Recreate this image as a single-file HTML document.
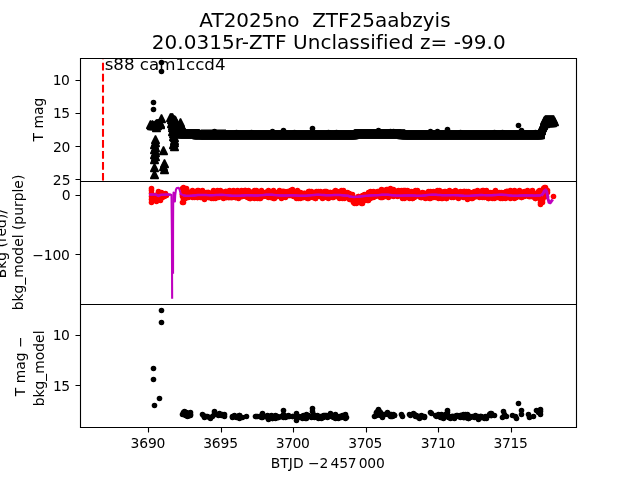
<!DOCTYPE html>
<html lang="en"><head><meta charset="utf-8"><title>AT2025no ZTF25aabzyis</title>
<style>html,body{margin:0;padding:0;background:#fff;width:640px;height:480px;overflow:hidden}</style>
</head><body>
<svg width="640" height="480" viewBox="0 0 640 480" style="display:block;will-change:transform;font-family:'DejaVu Sans','Liberation Sans',sans-serif;fill:#000">
<rect width="640" height="480" fill="#fff"/>
<clipPath id="c1"><rect x="80" y="57.6" width="496" height="123.2"/></clipPath>
<clipPath id="c2"><rect x="80" y="180.8" width="496" height="123.2"/></clipPath>
<clipPath id="c3"><rect x="80" y="304" width="496" height="123.2"/></clipPath>
<g clip-path="url(#c1)">
<g fill="#000"><circle cx="161.5" cy="62.5" r="2.78"/><circle cx="161.5" cy="71.5" r="2.78"/><circle cx="153.5" cy="102.5" r="2.78"/><circle cx="153.5" cy="109.5" r="2.78"/><circle cx="159.5" cy="121.5" r="2.78"/><circle cx="154.5" cy="125.5" r="2.78"/><circle cx="214.5" cy="131.5" r="2.78"/><circle cx="236.5" cy="132.5" r="2.78"/><circle cx="251.5" cy="132.5" r="2.78"/><circle cx="460.5" cy="132.5" r="2.78"/><circle cx="494.5" cy="132.5" r="2.78"/><circle cx="502.5" cy="132.5" r="2.78"/><circle cx="272.5" cy="131.5" r="2.78"/><circle cx="283.5" cy="130.5" r="2.78"/><circle cx="294.5" cy="132.5" r="2.78"/><circle cx="312.5" cy="128.5" r="2.78"/><circle cx="328.5" cy="132.5" r="2.78"/><circle cx="336.5" cy="132.5" r="2.78"/><circle cx="378.5" cy="130.5" r="2.78"/><circle cx="390.5" cy="131.5" r="2.78"/><circle cx="393.5" cy="131.5" r="2.78"/><circle cx="430.5" cy="131.5" r="2.78"/><circle cx="437.5" cy="131.5" r="2.78"/><circle cx="447.5" cy="129.5" r="2.78"/><circle cx="518.5" cy="125.5" r="2.78"/><circle cx="521.5" cy="130.5" r="2.78"/><circle cx="535.5" cy="132.5" r="2.78"/></g>
<g fill="#000" stroke="#000" stroke-width="1.39" stroke-linejoin="bevel">
<path d="M150.5 120.5l-4 8h8zM159.5 119.5l-4 8h8zM154.5 155.5l-4 8h8zM171.5 119.5l-4 8h8zM176.5 122.5l-4 8h8zM183.5 126.5l-4 8h8zM174.5 133.5l-4 8h8zM179.5 129.5l-4 8h8zM185.5 129.5l-4 8h8zM191.5 129.5l-4 8h8zM197.5 129.5l-4 8h8zM203.5 130.5l-4 8h8zM209.5 130.5l-4 8h8zM215.5 130.5l-4 8h8zM221.5 130.5l-4 8h8zM227.5 130.5l-4 8h8zM233.5 130.5l-4 8h8zM239.5 130.5l-4 8h8zM245.5 130.5l-4 8h8zM251.5 130.5l-4 8h8zM257.5 130.5l-4 8h8zM263.5 130.5l-4 8h8zM269.5 130.5l-4 8h8zM275.5 130.5l-4 8h8zM281.5 130.5l-4 8h8zM287.5 130.5l-4 8h8zM293.5 130.5l-4 8h8zM299.5 130.5l-4 8h8zM305.5 130.5l-4 8h8zM311.5 130.5l-4 8h8zM317.5 130.5l-4 8h8zM323.5 130.5l-4 8h8zM329.5 130.5l-4 8h8zM335.5 130.5l-4 8h8zM341.5 130.5l-4 8h8zM347.5 130.5l-4 8h8zM353.5 130.5l-4 8h8zM359.5 129.5l-4 8h8zM365.5 129.5l-4 8h8zM371.5 129.5l-4 8h8zM377.5 129.5l-4 8h8zM383.5 129.5l-4 8h8zM389.5 129.5l-4 8h8zM395.5 129.5l-4 8h8zM401.5 130.5l-4 8h8zM407.5 130.5l-4 8h8zM413.5 130.5l-4 8h8zM419.5 130.5l-4 8h8zM425.5 130.5l-4 8h8zM431.5 130.5l-4 8h8zM437.5 130.5l-4 8h8zM443.5 130.5l-4 8h8zM449.5 130.5l-4 8h8zM455.5 130.5l-4 8h8zM461.5 130.5l-4 8h8zM467.5 130.5l-4 8h8zM473.5 130.5l-4 8h8zM479.5 130.5l-4 8h8zM485.5 130.5l-4 8h8zM491.5 130.5l-4 8h8zM497.5 130.5l-4 8h8zM503.5 130.5l-4 8h8zM509.5 130.5l-4 8h8zM515.5 130.5l-4 8h8zM521.5 130.5l-4 8h8zM527.5 130.5l-4 8h8zM533.5 130.5l-4 8h8zM539.5 130.5l-4 8h8zM544.5 119.5l-4 8h8zM553.5 115.5l-4 8h8zM545.5 118.5l-4 8h8z"/>
<path d="M151.5 121.5l-4 8h8zM160.5 119.5l-4 8h8zM154.5 163.5l-4 8h8zM172.5 121.5l-4 8h8zM177.5 124.5l-4 8h8zM184.5 127.5l-4 8h8zM174.5 136.5l-4 8h8zM180.5 129.5l-4 8h8zM186.5 129.5l-4 8h8zM192.5 129.5l-4 8h8zM198.5 129.5l-4 8h8zM204.5 130.5l-4 8h8zM210.5 130.5l-4 8h8zM216.5 130.5l-4 8h8zM222.5 130.5l-4 8h8zM228.5 130.5l-4 8h8zM234.5 130.5l-4 8h8zM240.5 130.5l-4 8h8zM246.5 130.5l-4 8h8zM252.5 130.5l-4 8h8zM258.5 130.5l-4 8h8zM264.5 130.5l-4 8h8zM270.5 130.5l-4 8h8zM276.5 130.5l-4 8h8zM282.5 130.5l-4 8h8zM288.5 130.5l-4 8h8zM294.5 130.5l-4 8h8zM300.5 130.5l-4 8h8zM306.5 130.5l-4 8h8zM312.5 130.5l-4 8h8zM318.5 130.5l-4 8h8zM324.5 130.5l-4 8h8zM330.5 130.5l-4 8h8zM336.5 130.5l-4 8h8zM342.5 130.5l-4 8h8zM348.5 130.5l-4 8h8zM354.5 130.5l-4 8h8zM360.5 129.5l-4 8h8zM366.5 129.5l-4 8h8zM372.5 129.5l-4 8h8zM378.5 129.5l-4 8h8zM384.5 129.5l-4 8h8zM390.5 129.5l-4 8h8zM396.5 129.5l-4 8h8zM402.5 129.5l-4 8h8zM408.5 130.5l-4 8h8zM414.5 130.5l-4 8h8zM420.5 130.5l-4 8h8zM426.5 130.5l-4 8h8zM432.5 130.5l-4 8h8zM438.5 130.5l-4 8h8zM444.5 130.5l-4 8h8zM450.5 130.5l-4 8h8zM456.5 130.5l-4 8h8zM462.5 130.5l-4 8h8zM468.5 130.5l-4 8h8zM474.5 130.5l-4 8h8zM480.5 130.5l-4 8h8zM486.5 130.5l-4 8h8zM492.5 130.5l-4 8h8zM498.5 130.5l-4 8h8zM504.5 130.5l-4 8h8zM510.5 130.5l-4 8h8zM516.5 130.5l-4 8h8zM522.5 130.5l-4 8h8zM528.5 130.5l-4 8h8zM534.5 130.5l-4 8h8zM540.5 130.5l-4 8h8zM544.5 118.5l-4 8h8zM544.5 117.5l-4 8h8zM546.5 118.5l-4 8h8z"/>
<path d="M152.5 120.5l-4 8h8zM160.5 120.5l-4 8h8zM154.5 170.5l-4 8h8zM172.5 123.5l-4 8h8zM178.5 126.5l-4 8h8zM180.5 127.5l-4 8h8zM174.5 138.5l-4 8h8zM180.5 129.5l-4 8h8zM186.5 129.5l-4 8h8zM192.5 129.5l-4 8h8zM198.5 129.5l-4 8h8zM204.5 130.5l-4 8h8zM210.5 130.5l-4 8h8zM216.5 130.5l-4 8h8zM222.5 130.5l-4 8h8zM228.5 130.5l-4 8h8zM234.5 130.5l-4 8h8zM240.5 130.5l-4 8h8zM246.5 130.5l-4 8h8zM252.5 130.5l-4 8h8zM258.5 130.5l-4 8h8zM264.5 130.5l-4 8h8zM270.5 130.5l-4 8h8zM276.5 130.5l-4 8h8zM282.5 130.5l-4 8h8zM288.5 130.5l-4 8h8zM294.5 130.5l-4 8h8zM300.5 130.5l-4 8h8zM306.5 130.5l-4 8h8zM312.5 130.5l-4 8h8zM318.5 130.5l-4 8h8zM324.5 130.5l-4 8h8zM330.5 130.5l-4 8h8zM336.5 130.5l-4 8h8zM342.5 130.5l-4 8h8zM348.5 130.5l-4 8h8zM354.5 129.5l-4 8h8zM360.5 129.5l-4 8h8zM366.5 129.5l-4 8h8zM372.5 129.5l-4 8h8zM378.5 129.5l-4 8h8zM384.5 129.5l-4 8h8zM390.5 129.5l-4 8h8zM396.5 129.5l-4 8h8zM402.5 130.5l-4 8h8zM408.5 130.5l-4 8h8zM414.5 130.5l-4 8h8zM420.5 130.5l-4 8h8zM426.5 130.5l-4 8h8zM432.5 130.5l-4 8h8zM438.5 130.5l-4 8h8zM444.5 130.5l-4 8h8zM450.5 130.5l-4 8h8zM456.5 130.5l-4 8h8zM462.5 130.5l-4 8h8zM468.5 130.5l-4 8h8zM474.5 130.5l-4 8h8zM480.5 130.5l-4 8h8zM486.5 130.5l-4 8h8zM492.5 130.5l-4 8h8zM498.5 130.5l-4 8h8zM504.5 130.5l-4 8h8zM510.5 130.5l-4 8h8zM516.5 130.5l-4 8h8zM522.5 130.5l-4 8h8zM528.5 130.5l-4 8h8zM534.5 130.5l-4 8h8zM540.5 129.5l-4 8h8zM545.5 119.5l-4 8h8zM545.5 117.5l-4 8h8zM547.5 118.5l-4 8h8z"/>
<path d="M153.5 121.5l-4 8h8zM156.5 123.5l-4 8h8zM163.5 146.5l-4 8h8zM173.5 125.5l-4 8h8zM176.5 119.5l-4 8h8zM179.5 128.5l-4 8h8zM174.5 142.5l-4 8h8zM181.5 129.5l-4 8h8zM187.5 129.5l-4 8h8zM193.5 129.5l-4 8h8zM199.5 129.5l-4 8h8zM205.5 130.5l-4 8h8zM211.5 130.5l-4 8h8zM217.5 130.5l-4 8h8zM223.5 130.5l-4 8h8zM229.5 130.5l-4 8h8zM235.5 130.5l-4 8h8zM241.5 130.5l-4 8h8zM247.5 130.5l-4 8h8zM253.5 130.5l-4 8h8zM259.5 130.5l-4 8h8zM265.5 130.5l-4 8h8zM271.5 130.5l-4 8h8zM277.5 130.5l-4 8h8zM283.5 130.5l-4 8h8zM289.5 130.5l-4 8h8zM295.5 130.5l-4 8h8zM301.5 130.5l-4 8h8zM307.5 130.5l-4 8h8zM313.5 130.5l-4 8h8zM319.5 130.5l-4 8h8zM325.5 130.5l-4 8h8zM331.5 130.5l-4 8h8zM337.5 130.5l-4 8h8zM343.5 130.5l-4 8h8zM349.5 130.5l-4 8h8zM355.5 129.5l-4 8h8zM361.5 129.5l-4 8h8zM367.5 129.5l-4 8h8zM373.5 129.5l-4 8h8zM379.5 129.5l-4 8h8zM385.5 129.5l-4 8h8zM391.5 129.5l-4 8h8zM397.5 129.5l-4 8h8zM403.5 129.5l-4 8h8zM409.5 130.5l-4 8h8zM415.5 130.5l-4 8h8zM421.5 130.5l-4 8h8zM427.5 130.5l-4 8h8zM433.5 130.5l-4 8h8zM439.5 130.5l-4 8h8zM445.5 130.5l-4 8h8zM451.5 130.5l-4 8h8zM457.5 130.5l-4 8h8zM463.5 130.5l-4 8h8zM469.5 130.5l-4 8h8zM475.5 130.5l-4 8h8zM481.5 130.5l-4 8h8zM487.5 130.5l-4 8h8zM493.5 130.5l-4 8h8zM499.5 130.5l-4 8h8zM505.5 130.5l-4 8h8zM511.5 130.5l-4 8h8zM517.5 130.5l-4 8h8zM523.5 130.5l-4 8h8zM529.5 130.5l-4 8h8zM535.5 130.5l-4 8h8zM540.5 128.5l-4 8h8zM544.5 116.5l-4 8h8zM546.5 117.5l-4 8h8zM548.5 118.5l-4 8h8z"/>
<path d="M152.5 121.5l-4 8h8zM155.5 135.5l-4 8h8zM164.5 159.5l-4 8h8zM173.5 126.5l-4 8h8zM177.5 121.5l-4 8h8zM178.5 128.5l-4 8h8zM173.5 140.5l-4 8h8zM181.5 129.5l-4 8h8zM187.5 129.5l-4 8h8zM193.5 129.5l-4 8h8zM199.5 130.5l-4 8h8zM205.5 130.5l-4 8h8zM211.5 130.5l-4 8h8zM217.5 130.5l-4 8h8zM223.5 130.5l-4 8h8zM229.5 130.5l-4 8h8zM235.5 130.5l-4 8h8zM241.5 130.5l-4 8h8zM247.5 130.5l-4 8h8zM253.5 130.5l-4 8h8zM259.5 130.5l-4 8h8zM265.5 130.5l-4 8h8zM271.5 130.5l-4 8h8zM277.5 130.5l-4 8h8zM283.5 130.5l-4 8h8zM289.5 130.5l-4 8h8zM295.5 130.5l-4 8h8zM301.5 130.5l-4 8h8zM307.5 130.5l-4 8h8zM313.5 130.5l-4 8h8zM319.5 130.5l-4 8h8zM325.5 130.5l-4 8h8zM331.5 130.5l-4 8h8zM337.5 130.5l-4 8h8zM343.5 130.5l-4 8h8zM349.5 130.5l-4 8h8zM355.5 129.5l-4 8h8zM361.5 129.5l-4 8h8zM367.5 129.5l-4 8h8zM373.5 129.5l-4 8h8zM379.5 129.5l-4 8h8zM385.5 129.5l-4 8h8zM391.5 129.5l-4 8h8zM397.5 129.5l-4 8h8zM403.5 130.5l-4 8h8zM409.5 130.5l-4 8h8zM415.5 130.5l-4 8h8zM421.5 130.5l-4 8h8zM427.5 130.5l-4 8h8zM433.5 130.5l-4 8h8zM439.5 130.5l-4 8h8zM445.5 130.5l-4 8h8zM451.5 130.5l-4 8h8zM457.5 130.5l-4 8h8zM463.5 130.5l-4 8h8zM469.5 130.5l-4 8h8zM475.5 130.5l-4 8h8zM481.5 130.5l-4 8h8zM487.5 130.5l-4 8h8zM493.5 130.5l-4 8h8zM499.5 130.5l-4 8h8zM505.5 130.5l-4 8h8zM511.5 130.5l-4 8h8zM517.5 130.5l-4 8h8zM523.5 130.5l-4 8h8zM529.5 130.5l-4 8h8zM535.5 130.5l-4 8h8zM540.5 127.5l-4 8h8zM545.5 115.5l-4 8h8zM547.5 117.5l-4 8h8zM549.5 118.5l-4 8h8z"/>
<path d="M154.5 121.5l-4 8h8zM155.5 138.5l-4 8h8zM163.5 162.5l-4 8h8zM172.5 127.5l-4 8h8zM178.5 123.5l-4 8h8zM175.5 124.5l-4 8h8zM196.5 130.5l-4 8h8zM182.5 129.5l-4 8h8zM188.5 129.5l-4 8h8zM194.5 129.5l-4 8h8zM200.5 130.5l-4 8h8zM206.5 130.5l-4 8h8zM212.5 130.5l-4 8h8zM218.5 130.5l-4 8h8zM224.5 130.5l-4 8h8zM230.5 130.5l-4 8h8zM236.5 130.5l-4 8h8zM242.5 130.5l-4 8h8zM248.5 130.5l-4 8h8zM254.5 130.5l-4 8h8zM260.5 130.5l-4 8h8zM266.5 130.5l-4 8h8zM272.5 130.5l-4 8h8zM278.5 130.5l-4 8h8zM284.5 130.5l-4 8h8zM290.5 130.5l-4 8h8zM296.5 130.5l-4 8h8zM302.5 130.5l-4 8h8zM308.5 130.5l-4 8h8zM314.5 130.5l-4 8h8zM320.5 130.5l-4 8h8zM326.5 130.5l-4 8h8zM332.5 130.5l-4 8h8zM338.5 130.5l-4 8h8zM344.5 130.5l-4 8h8zM350.5 130.5l-4 8h8zM356.5 129.5l-4 8h8zM362.5 129.5l-4 8h8zM368.5 129.5l-4 8h8zM374.5 129.5l-4 8h8zM380.5 129.5l-4 8h8zM386.5 129.5l-4 8h8zM392.5 129.5l-4 8h8zM398.5 129.5l-4 8h8zM404.5 129.5l-4 8h8zM410.5 130.5l-4 8h8zM416.5 130.5l-4 8h8zM422.5 130.5l-4 8h8zM428.5 130.5l-4 8h8zM434.5 130.5l-4 8h8zM440.5 130.5l-4 8h8zM446.5 130.5l-4 8h8zM452.5 130.5l-4 8h8zM458.5 130.5l-4 8h8zM464.5 130.5l-4 8h8zM470.5 130.5l-4 8h8zM476.5 130.5l-4 8h8zM482.5 130.5l-4 8h8zM488.5 130.5l-4 8h8zM494.5 130.5l-4 8h8zM500.5 130.5l-4 8h8zM506.5 130.5l-4 8h8zM512.5 130.5l-4 8h8zM518.5 130.5l-4 8h8zM524.5 130.5l-4 8h8zM530.5 130.5l-4 8h8zM536.5 130.5l-4 8h8zM541.5 126.5l-4 8h8zM546.5 115.5l-4 8h8zM548.5 117.5l-4 8h8zM550.5 118.5l-4 8h8z"/>
<path d="M155.5 120.5l-4 8h8zM154.5 140.5l-4 8h8zM164.5 165.5l-4 8h8zM173.5 129.5l-4 8h8zM179.5 125.5l-4 8h8zM176.5 126.5l-4 8h8zM196.5 130.5l-4 8h8zM182.5 129.5l-4 8h8zM188.5 129.5l-4 8h8zM194.5 129.5l-4 8h8zM200.5 130.5l-4 8h8zM206.5 130.5l-4 8h8zM212.5 130.5l-4 8h8zM218.5 130.5l-4 8h8zM224.5 130.5l-4 8h8zM230.5 130.5l-4 8h8zM236.5 130.5l-4 8h8zM242.5 130.5l-4 8h8zM248.5 130.5l-4 8h8zM254.5 130.5l-4 8h8zM260.5 130.5l-4 8h8zM266.5 130.5l-4 8h8zM272.5 130.5l-4 8h8zM278.5 130.5l-4 8h8zM284.5 130.5l-4 8h8zM290.5 130.5l-4 8h8zM296.5 130.5l-4 8h8zM302.5 130.5l-4 8h8zM308.5 130.5l-4 8h8zM314.5 130.5l-4 8h8zM320.5 130.5l-4 8h8zM326.5 130.5l-4 8h8zM332.5 130.5l-4 8h8zM338.5 130.5l-4 8h8zM344.5 130.5l-4 8h8zM350.5 130.5l-4 8h8zM356.5 129.5l-4 8h8zM362.5 129.5l-4 8h8zM368.5 129.5l-4 8h8zM374.5 129.5l-4 8h8zM380.5 129.5l-4 8h8zM386.5 129.5l-4 8h8zM392.5 129.5l-4 8h8zM398.5 129.5l-4 8h8zM404.5 130.5l-4 8h8zM410.5 130.5l-4 8h8zM416.5 130.5l-4 8h8zM422.5 130.5l-4 8h8zM428.5 130.5l-4 8h8zM434.5 130.5l-4 8h8zM440.5 130.5l-4 8h8zM446.5 130.5l-4 8h8zM452.5 130.5l-4 8h8zM458.5 130.5l-4 8h8zM464.5 130.5l-4 8h8zM470.5 130.5l-4 8h8zM476.5 130.5l-4 8h8zM482.5 130.5l-4 8h8zM488.5 130.5l-4 8h8zM494.5 130.5l-4 8h8zM500.5 130.5l-4 8h8zM506.5 130.5l-4 8h8zM512.5 130.5l-4 8h8zM518.5 130.5l-4 8h8zM524.5 130.5l-4 8h8zM530.5 130.5l-4 8h8zM536.5 130.5l-4 8h8zM541.5 125.5l-4 8h8zM547.5 115.5l-4 8h8zM549.5 117.5l-4 8h8zM551.5 118.5l-4 8h8z"/>
<path d="M156.5 119.5l-4 8h8zM155.5 143.5l-4 8h8zM170.5 113.5l-4 8h8zM173.5 132.5l-4 8h8zM180.5 118.5l-4 8h8zM174.5 122.5l-4 8h8zM197.5 130.5l-4 8h8zM183.5 129.5l-4 8h8zM189.5 129.5l-4 8h8zM195.5 129.5l-4 8h8zM201.5 130.5l-4 8h8zM207.5 130.5l-4 8h8zM213.5 130.5l-4 8h8zM219.5 130.5l-4 8h8zM225.5 130.5l-4 8h8zM231.5 130.5l-4 8h8zM237.5 130.5l-4 8h8zM243.5 130.5l-4 8h8zM249.5 130.5l-4 8h8zM255.5 130.5l-4 8h8zM261.5 130.5l-4 8h8zM267.5 130.5l-4 8h8zM273.5 130.5l-4 8h8zM279.5 130.5l-4 8h8zM285.5 130.5l-4 8h8zM291.5 130.5l-4 8h8zM297.5 130.5l-4 8h8zM303.5 130.5l-4 8h8zM309.5 130.5l-4 8h8zM315.5 130.5l-4 8h8zM321.5 130.5l-4 8h8zM327.5 130.5l-4 8h8zM333.5 130.5l-4 8h8zM339.5 130.5l-4 8h8zM345.5 130.5l-4 8h8zM351.5 130.5l-4 8h8zM357.5 129.5l-4 8h8zM363.5 129.5l-4 8h8zM369.5 129.5l-4 8h8zM375.5 129.5l-4 8h8zM381.5 129.5l-4 8h8zM387.5 129.5l-4 8h8zM393.5 129.5l-4 8h8zM399.5 129.5l-4 8h8zM405.5 130.5l-4 8h8zM411.5 130.5l-4 8h8zM417.5 130.5l-4 8h8zM423.5 130.5l-4 8h8zM429.5 130.5l-4 8h8zM435.5 130.5l-4 8h8zM441.5 130.5l-4 8h8zM447.5 130.5l-4 8h8zM453.5 130.5l-4 8h8zM459.5 130.5l-4 8h8zM465.5 130.5l-4 8h8zM471.5 130.5l-4 8h8zM477.5 130.5l-4 8h8zM483.5 130.5l-4 8h8zM489.5 130.5l-4 8h8zM495.5 130.5l-4 8h8zM501.5 130.5l-4 8h8zM507.5 130.5l-4 8h8zM513.5 130.5l-4 8h8zM519.5 130.5l-4 8h8zM525.5 130.5l-4 8h8zM531.5 130.5l-4 8h8zM537.5 130.5l-4 8h8zM541.5 124.5l-4 8h8zM548.5 115.5l-4 8h8zM550.5 117.5l-4 8h8zM552.5 118.5l-4 8h8z"/>
<path d="M157.5 119.5l-4 8h8zM154.5 145.5l-4 8h8zM171.5 113.5l-4 8h8zM175.5 116.5l-4 8h8zM180.5 120.5l-4 8h8zM175.5 127.5l-4 8h8zM197.5 130.5l-4 8h8zM183.5 129.5l-4 8h8zM189.5 129.5l-4 8h8zM195.5 129.5l-4 8h8zM201.5 130.5l-4 8h8zM207.5 130.5l-4 8h8zM213.5 130.5l-4 8h8zM219.5 130.5l-4 8h8zM225.5 130.5l-4 8h8zM231.5 130.5l-4 8h8zM237.5 130.5l-4 8h8zM243.5 130.5l-4 8h8zM249.5 130.5l-4 8h8zM255.5 130.5l-4 8h8zM261.5 130.5l-4 8h8zM267.5 130.5l-4 8h8zM273.5 130.5l-4 8h8zM279.5 130.5l-4 8h8zM285.5 130.5l-4 8h8zM291.5 130.5l-4 8h8zM297.5 130.5l-4 8h8zM303.5 130.5l-4 8h8zM309.5 130.5l-4 8h8zM315.5 130.5l-4 8h8zM321.5 130.5l-4 8h8zM327.5 130.5l-4 8h8zM333.5 130.5l-4 8h8zM339.5 130.5l-4 8h8zM345.5 130.5l-4 8h8zM351.5 130.5l-4 8h8zM357.5 129.5l-4 8h8zM363.5 129.5l-4 8h8zM369.5 129.5l-4 8h8zM375.5 129.5l-4 8h8zM381.5 129.5l-4 8h8zM387.5 129.5l-4 8h8zM393.5 129.5l-4 8h8zM399.5 129.5l-4 8h8zM405.5 130.5l-4 8h8zM411.5 130.5l-4 8h8zM417.5 130.5l-4 8h8zM423.5 130.5l-4 8h8zM429.5 130.5l-4 8h8zM435.5 130.5l-4 8h8zM441.5 130.5l-4 8h8zM447.5 130.5l-4 8h8zM453.5 130.5l-4 8h8zM459.5 130.5l-4 8h8zM465.5 130.5l-4 8h8zM471.5 130.5l-4 8h8zM477.5 130.5l-4 8h8zM483.5 130.5l-4 8h8zM489.5 130.5l-4 8h8zM495.5 130.5l-4 8h8zM501.5 130.5l-4 8h8zM507.5 130.5l-4 8h8zM513.5 130.5l-4 8h8zM519.5 130.5l-4 8h8zM525.5 130.5l-4 8h8zM531.5 130.5l-4 8h8zM537.5 130.5l-4 8h8zM542.5 123.5l-4 8h8zM549.5 115.5l-4 8h8zM551.5 117.5l-4 8h8z"/>
<path d="M158.5 119.5l-4 8h8zM155.5 148.5l-4 8h8zM172.5 113.5l-4 8h8zM174.5 115.5l-4 8h8zM181.5 122.5l-4 8h8zM176.5 128.5l-4 8h8zM198.5 130.5l-4 8h8zM184.5 129.5l-4 8h8zM190.5 129.5l-4 8h8zM196.5 129.5l-4 8h8zM202.5 130.5l-4 8h8zM208.5 130.5l-4 8h8zM214.5 130.5l-4 8h8zM220.5 130.5l-4 8h8zM226.5 130.5l-4 8h8zM232.5 130.5l-4 8h8zM238.5 130.5l-4 8h8zM244.5 130.5l-4 8h8zM250.5 130.5l-4 8h8zM256.5 130.5l-4 8h8zM262.5 130.5l-4 8h8zM268.5 130.5l-4 8h8zM274.5 130.5l-4 8h8zM280.5 130.5l-4 8h8zM286.5 130.5l-4 8h8zM292.5 130.5l-4 8h8zM298.5 130.5l-4 8h8zM304.5 130.5l-4 8h8zM310.5 130.5l-4 8h8zM316.5 130.5l-4 8h8zM322.5 130.5l-4 8h8zM328.5 130.5l-4 8h8zM334.5 130.5l-4 8h8zM340.5 130.5l-4 8h8zM346.5 130.5l-4 8h8zM352.5 130.5l-4 8h8zM358.5 129.5l-4 8h8zM364.5 129.5l-4 8h8zM370.5 129.5l-4 8h8zM376.5 129.5l-4 8h8zM382.5 129.5l-4 8h8zM388.5 129.5l-4 8h8zM394.5 129.5l-4 8h8zM400.5 129.5l-4 8h8zM406.5 130.5l-4 8h8zM412.5 130.5l-4 8h8zM418.5 130.5l-4 8h8zM424.5 130.5l-4 8h8zM430.5 130.5l-4 8h8zM436.5 130.5l-4 8h8zM442.5 130.5l-4 8h8zM448.5 130.5l-4 8h8zM454.5 130.5l-4 8h8zM460.5 130.5l-4 8h8zM466.5 130.5l-4 8h8zM472.5 130.5l-4 8h8zM478.5 130.5l-4 8h8zM484.5 130.5l-4 8h8zM490.5 130.5l-4 8h8zM496.5 130.5l-4 8h8zM502.5 130.5l-4 8h8zM508.5 130.5l-4 8h8zM514.5 130.5l-4 8h8zM520.5 130.5l-4 8h8zM526.5 130.5l-4 8h8zM532.5 130.5l-4 8h8zM538.5 130.5l-4 8h8zM542.5 122.5l-4 8h8zM550.5 115.5l-4 8h8zM552.5 117.5l-4 8h8z"/>
<path d="M157.5 121.5l-4 8h8zM154.5 150.5l-4 8h8zM171.5 115.5l-4 8h8zM174.5 118.5l-4 8h8zM182.5 124.5l-4 8h8zM177.5 128.5l-4 8h8zM198.5 130.5l-4 8h8zM184.5 129.5l-4 8h8zM190.5 129.5l-4 8h8zM196.5 129.5l-4 8h8zM202.5 130.5l-4 8h8zM208.5 130.5l-4 8h8zM214.5 130.5l-4 8h8zM220.5 130.5l-4 8h8zM226.5 130.5l-4 8h8zM232.5 130.5l-4 8h8zM238.5 130.5l-4 8h8zM244.5 130.5l-4 8h8zM250.5 130.5l-4 8h8zM256.5 130.5l-4 8h8zM262.5 130.5l-4 8h8zM268.5 130.5l-4 8h8zM274.5 130.5l-4 8h8zM280.5 130.5l-4 8h8zM286.5 130.5l-4 8h8zM292.5 130.5l-4 8h8zM298.5 130.5l-4 8h8zM304.5 130.5l-4 8h8zM310.5 130.5l-4 8h8zM316.5 130.5l-4 8h8zM322.5 130.5l-4 8h8zM328.5 130.5l-4 8h8zM334.5 130.5l-4 8h8zM340.5 130.5l-4 8h8zM346.5 130.5l-4 8h8zM352.5 130.5l-4 8h8zM358.5 129.5l-4 8h8zM364.5 129.5l-4 8h8zM370.5 129.5l-4 8h8zM376.5 129.5l-4 8h8zM382.5 129.5l-4 8h8zM388.5 129.5l-4 8h8zM394.5 129.5l-4 8h8zM400.5 129.5l-4 8h8zM406.5 130.5l-4 8h8zM412.5 130.5l-4 8h8zM418.5 130.5l-4 8h8zM424.5 130.5l-4 8h8zM430.5 130.5l-4 8h8zM436.5 130.5l-4 8h8zM442.5 130.5l-4 8h8zM448.5 130.5l-4 8h8zM454.5 130.5l-4 8h8zM460.5 130.5l-4 8h8zM466.5 130.5l-4 8h8zM472.5 130.5l-4 8h8zM478.5 130.5l-4 8h8zM484.5 130.5l-4 8h8zM490.5 130.5l-4 8h8zM496.5 130.5l-4 8h8zM502.5 130.5l-4 8h8zM508.5 130.5l-4 8h8zM514.5 130.5l-4 8h8zM520.5 130.5l-4 8h8zM526.5 130.5l-4 8h8zM532.5 130.5l-4 8h8zM538.5 130.5l-4 8h8zM543.5 121.5l-4 8h8zM551.5 115.5l-4 8h8zM553.5 117.5l-4 8h8z"/>
<path d="M161.5 114.5l-4 8h8zM155.5 152.5l-4 8h8zM172.5 117.5l-4 8h8zM175.5 120.5l-4 8h8zM181.5 125.5l-4 8h8zM174.5 129.5l-4 8h8zM199.5 130.5l-4 8h8zM185.5 129.5l-4 8h8zM191.5 129.5l-4 8h8zM197.5 129.5l-4 8h8zM203.5 130.5l-4 8h8zM209.5 130.5l-4 8h8zM215.5 130.5l-4 8h8zM221.5 130.5l-4 8h8zM227.5 130.5l-4 8h8zM233.5 130.5l-4 8h8zM239.5 130.5l-4 8h8zM245.5 130.5l-4 8h8zM251.5 130.5l-4 8h8zM257.5 130.5l-4 8h8zM263.5 130.5l-4 8h8zM269.5 130.5l-4 8h8zM275.5 130.5l-4 8h8zM281.5 130.5l-4 8h8zM287.5 130.5l-4 8h8zM293.5 130.5l-4 8h8zM299.5 130.5l-4 8h8zM305.5 130.5l-4 8h8zM311.5 130.5l-4 8h8zM317.5 130.5l-4 8h8zM323.5 130.5l-4 8h8zM329.5 130.5l-4 8h8zM335.5 130.5l-4 8h8zM341.5 130.5l-4 8h8zM347.5 130.5l-4 8h8zM353.5 130.5l-4 8h8zM359.5 129.5l-4 8h8zM365.5 129.5l-4 8h8zM371.5 129.5l-4 8h8zM377.5 129.5l-4 8h8zM383.5 129.5l-4 8h8zM389.5 129.5l-4 8h8zM395.5 129.5l-4 8h8zM401.5 129.5l-4 8h8zM407.5 130.5l-4 8h8zM413.5 130.5l-4 8h8zM419.5 130.5l-4 8h8zM425.5 130.5l-4 8h8zM431.5 130.5l-4 8h8zM437.5 130.5l-4 8h8zM443.5 130.5l-4 8h8zM449.5 130.5l-4 8h8zM455.5 130.5l-4 8h8zM461.5 130.5l-4 8h8zM467.5 130.5l-4 8h8zM473.5 130.5l-4 8h8zM479.5 130.5l-4 8h8zM485.5 130.5l-4 8h8zM491.5 130.5l-4 8h8zM497.5 130.5l-4 8h8zM503.5 130.5l-4 8h8zM509.5 130.5l-4 8h8zM515.5 130.5l-4 8h8zM521.5 130.5l-4 8h8zM527.5 130.5l-4 8h8zM533.5 130.5l-4 8h8zM539.5 130.5l-4 8h8zM543.5 120.5l-4 8h8zM552.5 115.5l-4 8h8zM554.5 117.5l-4 8h8z"/>
</g>
<path d="M201 129.55H226V130.2H201z" fill="#000"/>
<path d="M103 180.8V58.6" stroke="#f00" stroke-width="2.08" stroke-dasharray="7.71 3.33" fill="none"/>
</g>
<text x="104.7" y="69.7" font-size="16.667" style="filter:grayscale(1)">s88 cam1ccd4</text>
<g clip-path="url(#c2)">
<g fill="#f00"><circle cx="151.5" cy="188.5" r="2.78"/><circle cx="151.5" cy="190.5" r="2.78"/><circle cx="151.5" cy="193.5" r="2.78"/><circle cx="151.5" cy="196.5" r="2.78"/><circle cx="151.5" cy="199.5" r="2.78"/><circle cx="151.5" cy="202.5" r="2.78"/><circle cx="152.5" cy="195.5" r="2.78"/><circle cx="153.5" cy="197.5" r="2.78"/><circle cx="154.5" cy="195.5" r="2.78"/><circle cx="155.5" cy="198.5" r="2.78"/><circle cx="156.5" cy="201.5" r="2.78"/><circle cx="156.5" cy="196.5" r="2.78"/><circle cx="157.5" cy="194.5" r="2.78"/><circle cx="158.5" cy="191.5" r="2.78"/><circle cx="158.5" cy="197.5" r="2.78"/><circle cx="159.5" cy="193.5" r="2.78"/><circle cx="160.5" cy="200.5" r="2.78"/><circle cx="160.5" cy="196.5" r="2.78"/><circle cx="161.5" cy="192.5" r="2.78"/><circle cx="161.5" cy="195.5" r="2.78"/><circle cx="162.5" cy="197.5" r="2.78"/><circle cx="163.5" cy="194.5" r="2.78"/><circle cx="164.5" cy="196.5" r="2.78"/><circle cx="165.5" cy="195.5" r="2.78"/><circle cx="165.5" cy="193.5" r="2.78"/><circle cx="166.5" cy="195.5" r="2.78"/><circle cx="182.5" cy="194.5" r="2.78"/><circle cx="182.5" cy="196.5" r="2.78"/><circle cx="182.5" cy="194.5" r="2.78"/><circle cx="183.5" cy="193.5" r="2.78"/><circle cx="183.5" cy="191.5" r="2.78"/><circle cx="183.5" cy="194.5" r="2.78"/><circle cx="183.5" cy="199.5" r="2.78"/><circle cx="184.5" cy="196.5" r="2.78"/><circle cx="184.5" cy="198.5" r="2.78"/><circle cx="184.5" cy="195.5" r="2.78"/><circle cx="184.5" cy="196.5" r="2.78"/><circle cx="184.5" cy="195.5" r="2.78"/><circle cx="185.5" cy="189.5" r="2.78"/><circle cx="185.5" cy="198.5" r="2.78"/><circle cx="185.5" cy="196.5" r="2.78"/><circle cx="185.5" cy="196.5" r="2.78"/><circle cx="186.5" cy="189.5" r="2.78"/><circle cx="186.5" cy="188.5" r="2.78"/><circle cx="186.5" cy="191.5" r="2.78"/><circle cx="186.5" cy="193.5" r="2.78"/><circle cx="186.5" cy="195.5" r="2.78"/><circle cx="187.5" cy="194.5" r="2.78"/><circle cx="187.5" cy="195.5" r="2.78"/><circle cx="187.5" cy="193.5" r="2.78"/><circle cx="187.5" cy="195.5" r="2.78"/><circle cx="187.5" cy="195.5" r="2.78"/><circle cx="188.5" cy="193.5" r="2.78"/><circle cx="188.5" cy="197.5" r="2.78"/><circle cx="188.5" cy="195.5" r="2.78"/><circle cx="188.5" cy="196.5" r="2.78"/><circle cx="189.5" cy="193.5" r="2.78"/><circle cx="189.5" cy="193.5" r="2.78"/><circle cx="189.5" cy="193.5" r="2.78"/><circle cx="189.5" cy="194.5" r="2.78"/><circle cx="189.5" cy="195.5" r="2.78"/><circle cx="190.5" cy="195.5" r="2.78"/><circle cx="190.5" cy="193.5" r="2.78"/><circle cx="190.5" cy="192.5" r="2.78"/><circle cx="190.5" cy="193.5" r="2.78"/><circle cx="191.5" cy="196.5" r="2.78"/><circle cx="191.5" cy="193.5" r="2.78"/><circle cx="191.5" cy="195.5" r="2.78"/><circle cx="191.5" cy="195.5" r="2.78"/><circle cx="191.5" cy="191.5" r="2.78"/><circle cx="192.5" cy="194.5" r="2.78"/><circle cx="192.5" cy="197.5" r="2.78"/><circle cx="192.5" cy="190.5" r="2.78"/><circle cx="192.5" cy="194.5" r="2.78"/><circle cx="193.5" cy="194.5" r="2.78"/><circle cx="193.5" cy="193.5" r="2.78"/><circle cx="193.5" cy="195.5" r="2.78"/><circle cx="193.5" cy="194.5" r="2.78"/><circle cx="193.5" cy="191.5" r="2.78"/><circle cx="194.5" cy="196.5" r="2.78"/><circle cx="194.5" cy="195.5" r="2.78"/><circle cx="194.5" cy="196.5" r="2.78"/><circle cx="194.5" cy="197.5" r="2.78"/><circle cx="195.5" cy="195.5" r="2.78"/><circle cx="195.5" cy="194.5" r="2.78"/><circle cx="195.5" cy="192.5" r="2.78"/><circle cx="195.5" cy="195.5" r="2.78"/><circle cx="195.5" cy="193.5" r="2.78"/><circle cx="196.5" cy="193.5" r="2.78"/><circle cx="196.5" cy="192.5" r="2.78"/><circle cx="196.5" cy="192.5" r="2.78"/><circle cx="196.5" cy="193.5" r="2.78"/><circle cx="197.5" cy="197.5" r="2.78"/><circle cx="197.5" cy="190.5" r="2.78"/><circle cx="197.5" cy="191.5" r="2.78"/><circle cx="197.5" cy="195.5" r="2.78"/><circle cx="197.5" cy="197.5" r="2.78"/><circle cx="198.5" cy="195.5" r="2.78"/><circle cx="198.5" cy="191.5" r="2.78"/><circle cx="198.5" cy="190.5" r="2.78"/><circle cx="198.5" cy="195.5" r="2.78"/><circle cx="198.5" cy="193.5" r="2.78"/><circle cx="199.5" cy="192.5" r="2.78"/><circle cx="199.5" cy="196.5" r="2.78"/><circle cx="199.5" cy="196.5" r="2.78"/><circle cx="199.5" cy="194.5" r="2.78"/><circle cx="200.5" cy="195.5" r="2.78"/><circle cx="200.5" cy="195.5" r="2.78"/><circle cx="200.5" cy="197.5" r="2.78"/><circle cx="200.5" cy="195.5" r="2.78"/><circle cx="200.5" cy="195.5" r="2.78"/><circle cx="201.5" cy="195.5" r="2.78"/><circle cx="201.5" cy="191.5" r="2.78"/><circle cx="201.5" cy="197.5" r="2.78"/><circle cx="201.5" cy="196.5" r="2.78"/><circle cx="202.5" cy="195.5" r="2.78"/><circle cx="202.5" cy="190.5" r="2.78"/><circle cx="202.5" cy="193.5" r="2.78"/><circle cx="202.5" cy="196.5" r="2.78"/><circle cx="202.5" cy="191.5" r="2.78"/><circle cx="203.5" cy="194.5" r="2.78"/><circle cx="203.5" cy="196.5" r="2.78"/><circle cx="203.5" cy="192.5" r="2.78"/><circle cx="203.5" cy="197.5" r="2.78"/><circle cx="204.5" cy="195.5" r="2.78"/><circle cx="204.5" cy="194.5" r="2.78"/><circle cx="204.5" cy="195.5" r="2.78"/><circle cx="204.5" cy="195.5" r="2.78"/><circle cx="204.5" cy="194.5" r="2.78"/><circle cx="205.5" cy="196.5" r="2.78"/><circle cx="205.5" cy="193.5" r="2.78"/><circle cx="205.5" cy="193.5" r="2.78"/><circle cx="205.5" cy="196.5" r="2.78"/><circle cx="206.5" cy="194.5" r="2.78"/><circle cx="206.5" cy="192.5" r="2.78"/><circle cx="206.5" cy="196.5" r="2.78"/><circle cx="206.5" cy="197.5" r="2.78"/><circle cx="206.5" cy="193.5" r="2.78"/><circle cx="207.5" cy="192.5" r="2.78"/><circle cx="207.5" cy="194.5" r="2.78"/><circle cx="207.5" cy="194.5" r="2.78"/><circle cx="207.5" cy="194.5" r="2.78"/><circle cx="208.5" cy="197.5" r="2.78"/><circle cx="208.5" cy="192.5" r="2.78"/><circle cx="208.5" cy="197.5" r="2.78"/><circle cx="208.5" cy="192.5" r="2.78"/><circle cx="208.5" cy="193.5" r="2.78"/><circle cx="209.5" cy="195.5" r="2.78"/><circle cx="209.5" cy="196.5" r="2.78"/><circle cx="209.5" cy="196.5" r="2.78"/><circle cx="209.5" cy="195.5" r="2.78"/><circle cx="209.5" cy="194.5" r="2.78"/><circle cx="210.5" cy="194.5" r="2.78"/><circle cx="210.5" cy="195.5" r="2.78"/><circle cx="210.5" cy="194.5" r="2.78"/><circle cx="210.5" cy="195.5" r="2.78"/><circle cx="211.5" cy="195.5" r="2.78"/><circle cx="211.5" cy="194.5" r="2.78"/><circle cx="211.5" cy="196.5" r="2.78"/><circle cx="211.5" cy="195.5" r="2.78"/><circle cx="211.5" cy="198.5" r="2.78"/><circle cx="212.5" cy="195.5" r="2.78"/><circle cx="212.5" cy="193.5" r="2.78"/><circle cx="212.5" cy="193.5" r="2.78"/><circle cx="212.5" cy="194.5" r="2.78"/><circle cx="213.5" cy="196.5" r="2.78"/><circle cx="213.5" cy="194.5" r="2.78"/><circle cx="213.5" cy="195.5" r="2.78"/><circle cx="213.5" cy="198.5" r="2.78"/><circle cx="213.5" cy="190.5" r="2.78"/><circle cx="214.5" cy="192.5" r="2.78"/><circle cx="214.5" cy="195.5" r="2.78"/><circle cx="214.5" cy="195.5" r="2.78"/><circle cx="214.5" cy="195.5" r="2.78"/><circle cx="215.5" cy="193.5" r="2.78"/><circle cx="215.5" cy="195.5" r="2.78"/><circle cx="215.5" cy="195.5" r="2.78"/><circle cx="215.5" cy="193.5" r="2.78"/><circle cx="215.5" cy="198.5" r="2.78"/><circle cx="216.5" cy="195.5" r="2.78"/><circle cx="216.5" cy="193.5" r="2.78"/><circle cx="216.5" cy="194.5" r="2.78"/><circle cx="216.5" cy="194.5" r="2.78"/><circle cx="217.5" cy="194.5" r="2.78"/><circle cx="217.5" cy="190.5" r="2.78"/><circle cx="217.5" cy="193.5" r="2.78"/><circle cx="217.5" cy="196.5" r="2.78"/><circle cx="217.5" cy="192.5" r="2.78"/><circle cx="218.5" cy="194.5" r="2.78"/><circle cx="218.5" cy="196.5" r="2.78"/><circle cx="218.5" cy="196.5" r="2.78"/><circle cx="218.5" cy="197.5" r="2.78"/><circle cx="219.5" cy="191.5" r="2.78"/><circle cx="219.5" cy="193.5" r="2.78"/><circle cx="219.5" cy="194.5" r="2.78"/><circle cx="219.5" cy="195.5" r="2.78"/><circle cx="219.5" cy="196.5" r="2.78"/><circle cx="220.5" cy="190.5" r="2.78"/><circle cx="220.5" cy="196.5" r="2.78"/><circle cx="220.5" cy="191.5" r="2.78"/><circle cx="220.5" cy="195.5" r="2.78"/><circle cx="220.5" cy="191.5" r="2.78"/><circle cx="221.5" cy="194.5" r="2.78"/><circle cx="221.5" cy="196.5" r="2.78"/><circle cx="221.5" cy="194.5" r="2.78"/><circle cx="221.5" cy="195.5" r="2.78"/><circle cx="222.5" cy="196.5" r="2.78"/><circle cx="222.5" cy="194.5" r="2.78"/><circle cx="222.5" cy="194.5" r="2.78"/><circle cx="222.5" cy="197.5" r="2.78"/><circle cx="222.5" cy="196.5" r="2.78"/><circle cx="223.5" cy="194.5" r="2.78"/><circle cx="223.5" cy="198.5" r="2.78"/><circle cx="223.5" cy="192.5" r="2.78"/><circle cx="223.5" cy="196.5" r="2.78"/><circle cx="224.5" cy="194.5" r="2.78"/><circle cx="224.5" cy="194.5" r="2.78"/><circle cx="224.5" cy="195.5" r="2.78"/><circle cx="224.5" cy="195.5" r="2.78"/><circle cx="224.5" cy="195.5" r="2.78"/><circle cx="225.5" cy="191.5" r="2.78"/><circle cx="225.5" cy="191.5" r="2.78"/><circle cx="225.5" cy="195.5" r="2.78"/><circle cx="225.5" cy="192.5" r="2.78"/><circle cx="226.5" cy="192.5" r="2.78"/><circle cx="226.5" cy="191.5" r="2.78"/><circle cx="226.5" cy="197.5" r="2.78"/><circle cx="226.5" cy="196.5" r="2.78"/><circle cx="226.5" cy="197.5" r="2.78"/><circle cx="227.5" cy="192.5" r="2.78"/><circle cx="227.5" cy="194.5" r="2.78"/><circle cx="227.5" cy="192.5" r="2.78"/><circle cx="227.5" cy="196.5" r="2.78"/><circle cx="228.5" cy="197.5" r="2.78"/><circle cx="228.5" cy="192.5" r="2.78"/><circle cx="228.5" cy="197.5" r="2.78"/><circle cx="228.5" cy="196.5" r="2.78"/><circle cx="228.5" cy="194.5" r="2.78"/><circle cx="229.5" cy="190.5" r="2.78"/><circle cx="229.5" cy="197.5" r="2.78"/><circle cx="229.5" cy="194.5" r="2.78"/><circle cx="229.5" cy="193.5" r="2.78"/><circle cx="230.5" cy="195.5" r="2.78"/><circle cx="230.5" cy="195.5" r="2.78"/><circle cx="230.5" cy="197.5" r="2.78"/><circle cx="230.5" cy="192.5" r="2.78"/><circle cx="230.5" cy="196.5" r="2.78"/><circle cx="231.5" cy="197.5" r="2.78"/><circle cx="231.5" cy="197.5" r="2.78"/><circle cx="231.5" cy="194.5" r="2.78"/><circle cx="231.5" cy="193.5" r="2.78"/><circle cx="231.5" cy="196.5" r="2.78"/><circle cx="232.5" cy="194.5" r="2.78"/><circle cx="232.5" cy="194.5" r="2.78"/><circle cx="232.5" cy="197.5" r="2.78"/><circle cx="232.5" cy="194.5" r="2.78"/><circle cx="233.5" cy="190.5" r="2.78"/><circle cx="233.5" cy="193.5" r="2.78"/><circle cx="233.5" cy="191.5" r="2.78"/><circle cx="233.5" cy="196.5" r="2.78"/><circle cx="233.5" cy="195.5" r="2.78"/><circle cx="234.5" cy="193.5" r="2.78"/><circle cx="234.5" cy="194.5" r="2.78"/><circle cx="234.5" cy="196.5" r="2.78"/><circle cx="234.5" cy="194.5" r="2.78"/><circle cx="235.5" cy="197.5" r="2.78"/><circle cx="235.5" cy="194.5" r="2.78"/><circle cx="235.5" cy="196.5" r="2.78"/><circle cx="235.5" cy="197.5" r="2.78"/><circle cx="235.5" cy="197.5" r="2.78"/><circle cx="236.5" cy="193.5" r="2.78"/><circle cx="236.5" cy="196.5" r="2.78"/><circle cx="236.5" cy="191.5" r="2.78"/><circle cx="236.5" cy="192.5" r="2.78"/><circle cx="237.5" cy="190.5" r="2.78"/><circle cx="237.5" cy="196.5" r="2.78"/><circle cx="237.5" cy="192.5" r="2.78"/><circle cx="237.5" cy="194.5" r="2.78"/><circle cx="237.5" cy="194.5" r="2.78"/><circle cx="238.5" cy="194.5" r="2.78"/><circle cx="238.5" cy="193.5" r="2.78"/><circle cx="238.5" cy="195.5" r="2.78"/><circle cx="238.5" cy="198.5" r="2.78"/><circle cx="239.5" cy="194.5" r="2.78"/><circle cx="239.5" cy="195.5" r="2.78"/><circle cx="239.5" cy="196.5" r="2.78"/><circle cx="239.5" cy="194.5" r="2.78"/><circle cx="239.5" cy="192.5" r="2.78"/><circle cx="240.5" cy="193.5" r="2.78"/><circle cx="240.5" cy="196.5" r="2.78"/><circle cx="240.5" cy="191.5" r="2.78"/><circle cx="240.5" cy="193.5" r="2.78"/><circle cx="241.5" cy="196.5" r="2.78"/><circle cx="241.5" cy="196.5" r="2.78"/><circle cx="241.5" cy="194.5" r="2.78"/><circle cx="241.5" cy="196.5" r="2.78"/><circle cx="241.5" cy="194.5" r="2.78"/><circle cx="242.5" cy="192.5" r="2.78"/><circle cx="242.5" cy="191.5" r="2.78"/><circle cx="242.5" cy="193.5" r="2.78"/><circle cx="242.5" cy="196.5" r="2.78"/><circle cx="242.5" cy="193.5" r="2.78"/><circle cx="243.5" cy="192.5" r="2.78"/><circle cx="243.5" cy="193.5" r="2.78"/><circle cx="243.5" cy="191.5" r="2.78"/><circle cx="243.5" cy="194.5" r="2.78"/><circle cx="244.5" cy="192.5" r="2.78"/><circle cx="244.5" cy="195.5" r="2.78"/><circle cx="244.5" cy="190.5" r="2.78"/><circle cx="244.5" cy="195.5" r="2.78"/><circle cx="244.5" cy="193.5" r="2.78"/><circle cx="245.5" cy="190.5" r="2.78"/><circle cx="245.5" cy="196.5" r="2.78"/><circle cx="245.5" cy="194.5" r="2.78"/><circle cx="245.5" cy="190.5" r="2.78"/><circle cx="246.5" cy="192.5" r="2.78"/><circle cx="246.5" cy="195.5" r="2.78"/><circle cx="246.5" cy="193.5" r="2.78"/><circle cx="246.5" cy="196.5" r="2.78"/><circle cx="246.5" cy="196.5" r="2.78"/><circle cx="247.5" cy="195.5" r="2.78"/><circle cx="247.5" cy="195.5" r="2.78"/><circle cx="247.5" cy="197.5" r="2.78"/><circle cx="247.5" cy="195.5" r="2.78"/><circle cx="248.5" cy="195.5" r="2.78"/><circle cx="248.5" cy="190.5" r="2.78"/><circle cx="248.5" cy="196.5" r="2.78"/><circle cx="248.5" cy="197.5" r="2.78"/><circle cx="248.5" cy="194.5" r="2.78"/><circle cx="249.5" cy="193.5" r="2.78"/><circle cx="249.5" cy="198.5" r="2.78"/><circle cx="249.5" cy="191.5" r="2.78"/><circle cx="249.5" cy="195.5" r="2.78"/><circle cx="250.5" cy="198.5" r="2.78"/><circle cx="250.5" cy="192.5" r="2.78"/><circle cx="250.5" cy="195.5" r="2.78"/><circle cx="250.5" cy="198.5" r="2.78"/><circle cx="250.5" cy="194.5" r="2.78"/><circle cx="251.5" cy="195.5" r="2.78"/><circle cx="251.5" cy="196.5" r="2.78"/><circle cx="251.5" cy="192.5" r="2.78"/><circle cx="251.5" cy="194.5" r="2.78"/><circle cx="252.5" cy="195.5" r="2.78"/><circle cx="252.5" cy="196.5" r="2.78"/><circle cx="252.5" cy="194.5" r="2.78"/><circle cx="252.5" cy="194.5" r="2.78"/><circle cx="252.5" cy="192.5" r="2.78"/><circle cx="253.5" cy="193.5" r="2.78"/><circle cx="253.5" cy="196.5" r="2.78"/><circle cx="253.5" cy="194.5" r="2.78"/><circle cx="253.5" cy="193.5" r="2.78"/><circle cx="253.5" cy="193.5" r="2.78"/><circle cx="254.5" cy="198.5" r="2.78"/><circle cx="254.5" cy="196.5" r="2.78"/><circle cx="254.5" cy="195.5" r="2.78"/><circle cx="254.5" cy="190.5" r="2.78"/><circle cx="255.5" cy="195.5" r="2.78"/><circle cx="255.5" cy="195.5" r="2.78"/><circle cx="255.5" cy="197.5" r="2.78"/><circle cx="255.5" cy="195.5" r="2.78"/><circle cx="255.5" cy="194.5" r="2.78"/><circle cx="256.5" cy="195.5" r="2.78"/><circle cx="256.5" cy="190.5" r="2.78"/><circle cx="256.5" cy="196.5" r="2.78"/><circle cx="256.5" cy="195.5" r="2.78"/><circle cx="257.5" cy="193.5" r="2.78"/><circle cx="257.5" cy="197.5" r="2.78"/><circle cx="257.5" cy="198.5" r="2.78"/><circle cx="257.5" cy="191.5" r="2.78"/><circle cx="257.5" cy="193.5" r="2.78"/><circle cx="258.5" cy="195.5" r="2.78"/><circle cx="258.5" cy="194.5" r="2.78"/><circle cx="258.5" cy="193.5" r="2.78"/><circle cx="258.5" cy="192.5" r="2.78"/><circle cx="259.5" cy="198.5" r="2.78"/><circle cx="259.5" cy="196.5" r="2.78"/><circle cx="259.5" cy="192.5" r="2.78"/><circle cx="259.5" cy="192.5" r="2.78"/><circle cx="259.5" cy="197.5" r="2.78"/><circle cx="260.5" cy="196.5" r="2.78"/><circle cx="260.5" cy="198.5" r="2.78"/><circle cx="260.5" cy="196.5" r="2.78"/><circle cx="260.5" cy="192.5" r="2.78"/><circle cx="261.5" cy="195.5" r="2.78"/><circle cx="261.5" cy="190.5" r="2.78"/><circle cx="261.5" cy="193.5" r="2.78"/><circle cx="261.5" cy="194.5" r="2.78"/><circle cx="261.5" cy="195.5" r="2.78"/><circle cx="262.5" cy="193.5" r="2.78"/><circle cx="262.5" cy="194.5" r="2.78"/><circle cx="262.5" cy="195.5" r="2.78"/><circle cx="262.5" cy="195.5" r="2.78"/><circle cx="263.5" cy="195.5" r="2.78"/><circle cx="263.5" cy="195.5" r="2.78"/><circle cx="263.5" cy="194.5" r="2.78"/><circle cx="263.5" cy="196.5" r="2.78"/><circle cx="263.5" cy="194.5" r="2.78"/><circle cx="264.5" cy="193.5" r="2.78"/><circle cx="264.5" cy="193.5" r="2.78"/><circle cx="264.5" cy="194.5" r="2.78"/><circle cx="264.5" cy="194.5" r="2.78"/><circle cx="265.5" cy="194.5" r="2.78"/><circle cx="265.5" cy="194.5" r="2.78"/><circle cx="265.5" cy="194.5" r="2.78"/><circle cx="265.5" cy="194.5" r="2.78"/><circle cx="265.5" cy="192.5" r="2.78"/><circle cx="266.5" cy="195.5" r="2.78"/><circle cx="266.5" cy="196.5" r="2.78"/><circle cx="266.5" cy="195.5" r="2.78"/><circle cx="266.5" cy="194.5" r="2.78"/><circle cx="266.5" cy="195.5" r="2.78"/><circle cx="267.5" cy="192.5" r="2.78"/><circle cx="267.5" cy="191.5" r="2.78"/><circle cx="267.5" cy="194.5" r="2.78"/><circle cx="267.5" cy="192.5" r="2.78"/><circle cx="268.5" cy="196.5" r="2.78"/><circle cx="268.5" cy="192.5" r="2.78"/><circle cx="268.5" cy="190.5" r="2.78"/><circle cx="268.5" cy="192.5" r="2.78"/><circle cx="268.5" cy="197.5" r="2.78"/><circle cx="269.5" cy="193.5" r="2.78"/><circle cx="269.5" cy="192.5" r="2.78"/><circle cx="269.5" cy="193.5" r="2.78"/><circle cx="269.5" cy="195.5" r="2.78"/><circle cx="270.5" cy="195.5" r="2.78"/><circle cx="270.5" cy="194.5" r="2.78"/><circle cx="270.5" cy="197.5" r="2.78"/><circle cx="270.5" cy="195.5" r="2.78"/><circle cx="270.5" cy="194.5" r="2.78"/><circle cx="271.5" cy="195.5" r="2.78"/><circle cx="271.5" cy="197.5" r="2.78"/><circle cx="271.5" cy="196.5" r="2.78"/><circle cx="271.5" cy="196.5" r="2.78"/><circle cx="272.5" cy="192.5" r="2.78"/><circle cx="272.5" cy="194.5" r="2.78"/><circle cx="272.5" cy="196.5" r="2.78"/><circle cx="272.5" cy="194.5" r="2.78"/><circle cx="272.5" cy="196.5" r="2.78"/><circle cx="273.5" cy="195.5" r="2.78"/><circle cx="273.5" cy="196.5" r="2.78"/><circle cx="273.5" cy="194.5" r="2.78"/><circle cx="273.5" cy="198.5" r="2.78"/><circle cx="274.5" cy="197.5" r="2.78"/><circle cx="274.5" cy="194.5" r="2.78"/><circle cx="274.5" cy="194.5" r="2.78"/><circle cx="274.5" cy="198.5" r="2.78"/><circle cx="274.5" cy="193.5" r="2.78"/><circle cx="275.5" cy="196.5" r="2.78"/><circle cx="275.5" cy="196.5" r="2.78"/><circle cx="275.5" cy="194.5" r="2.78"/><circle cx="275.5" cy="192.5" r="2.78"/><circle cx="276.5" cy="195.5" r="2.78"/><circle cx="276.5" cy="195.5" r="2.78"/><circle cx="276.5" cy="196.5" r="2.78"/><circle cx="276.5" cy="196.5" r="2.78"/><circle cx="276.5" cy="194.5" r="2.78"/><circle cx="277.5" cy="196.5" r="2.78"/><circle cx="277.5" cy="195.5" r="2.78"/><circle cx="277.5" cy="195.5" r="2.78"/><circle cx="277.5" cy="194.5" r="2.78"/><circle cx="277.5" cy="194.5" r="2.78"/><circle cx="278.5" cy="195.5" r="2.78"/><circle cx="278.5" cy="192.5" r="2.78"/><circle cx="278.5" cy="193.5" r="2.78"/><circle cx="278.5" cy="194.5" r="2.78"/><circle cx="279.5" cy="191.5" r="2.78"/><circle cx="279.5" cy="193.5" r="2.78"/><circle cx="279.5" cy="190.5" r="2.78"/><circle cx="279.5" cy="193.5" r="2.78"/><circle cx="279.5" cy="195.5" r="2.78"/><circle cx="280.5" cy="195.5" r="2.78"/><circle cx="280.5" cy="194.5" r="2.78"/><circle cx="280.5" cy="194.5" r="2.78"/><circle cx="280.5" cy="191.5" r="2.78"/><circle cx="281.5" cy="198.5" r="2.78"/><circle cx="281.5" cy="195.5" r="2.78"/><circle cx="281.5" cy="196.5" r="2.78"/><circle cx="281.5" cy="192.5" r="2.78"/><circle cx="281.5" cy="194.5" r="2.78"/><circle cx="282.5" cy="191.5" r="2.78"/><circle cx="282.5" cy="196.5" r="2.78"/><circle cx="282.5" cy="196.5" r="2.78"/><circle cx="282.5" cy="191.5" r="2.78"/><circle cx="283.5" cy="194.5" r="2.78"/><circle cx="283.5" cy="195.5" r="2.78"/><circle cx="283.5" cy="191.5" r="2.78"/><circle cx="283.5" cy="191.5" r="2.78"/><circle cx="283.5" cy="192.5" r="2.78"/><circle cx="284.5" cy="193.5" r="2.78"/><circle cx="284.5" cy="191.5" r="2.78"/><circle cx="284.5" cy="194.5" r="2.78"/><circle cx="284.5" cy="195.5" r="2.78"/><circle cx="285.5" cy="195.5" r="2.78"/><circle cx="285.5" cy="195.5" r="2.78"/><circle cx="285.5" cy="197.5" r="2.78"/><circle cx="285.5" cy="196.5" r="2.78"/><circle cx="285.5" cy="192.5" r="2.78"/><circle cx="286.5" cy="193.5" r="2.78"/><circle cx="286.5" cy="192.5" r="2.78"/><circle cx="286.5" cy="192.5" r="2.78"/><circle cx="286.5" cy="194.5" r="2.78"/><circle cx="287.5" cy="194.5" r="2.78"/><circle cx="287.5" cy="195.5" r="2.78"/><circle cx="287.5" cy="191.5" r="2.78"/><circle cx="287.5" cy="192.5" r="2.78"/><circle cx="287.5" cy="194.5" r="2.78"/><circle cx="288.5" cy="194.5" r="2.78"/><circle cx="288.5" cy="194.5" r="2.78"/><circle cx="288.5" cy="194.5" r="2.78"/><circle cx="288.5" cy="193.5" r="2.78"/><circle cx="288.5" cy="195.5" r="2.78"/><circle cx="289.5" cy="195.5" r="2.78"/><circle cx="289.5" cy="194.5" r="2.78"/><circle cx="289.5" cy="193.5" r="2.78"/><circle cx="289.5" cy="194.5" r="2.78"/><circle cx="290.5" cy="190.5" r="2.78"/><circle cx="290.5" cy="192.5" r="2.78"/><circle cx="290.5" cy="194.5" r="2.78"/><circle cx="290.5" cy="191.5" r="2.78"/><circle cx="290.5" cy="195.5" r="2.78"/><circle cx="291.5" cy="194.5" r="2.78"/><circle cx="291.5" cy="192.5" r="2.78"/><circle cx="291.5" cy="194.5" r="2.78"/><circle cx="291.5" cy="194.5" r="2.78"/><circle cx="292.5" cy="195.5" r="2.78"/><circle cx="292.5" cy="195.5" r="2.78"/><circle cx="292.5" cy="194.5" r="2.78"/><circle cx="292.5" cy="193.5" r="2.78"/><circle cx="292.5" cy="194.5" r="2.78"/><circle cx="293.5" cy="194.5" r="2.78"/><circle cx="293.5" cy="196.5" r="2.78"/><circle cx="293.5" cy="195.5" r="2.78"/><circle cx="293.5" cy="193.5" r="2.78"/><circle cx="294.5" cy="192.5" r="2.78"/><circle cx="294.5" cy="193.5" r="2.78"/><circle cx="294.5" cy="193.5" r="2.78"/><circle cx="294.5" cy="192.5" r="2.78"/><circle cx="294.5" cy="194.5" r="2.78"/><circle cx="295.5" cy="193.5" r="2.78"/><circle cx="295.5" cy="194.5" r="2.78"/><circle cx="295.5" cy="195.5" r="2.78"/><circle cx="295.5" cy="193.5" r="2.78"/><circle cx="296.5" cy="198.5" r="2.78"/><circle cx="296.5" cy="194.5" r="2.78"/><circle cx="296.5" cy="196.5" r="2.78"/><circle cx="296.5" cy="194.5" r="2.78"/><circle cx="296.5" cy="196.5" r="2.78"/><circle cx="297.5" cy="190.5" r="2.78"/><circle cx="297.5" cy="193.5" r="2.78"/><circle cx="297.5" cy="195.5" r="2.78"/><circle cx="297.5" cy="195.5" r="2.78"/><circle cx="298.5" cy="198.5" r="2.78"/><circle cx="298.5" cy="195.5" r="2.78"/><circle cx="298.5" cy="197.5" r="2.78"/><circle cx="298.5" cy="196.5" r="2.78"/><circle cx="298.5" cy="196.5" r="2.78"/><circle cx="299.5" cy="195.5" r="2.78"/><circle cx="299.5" cy="194.5" r="2.78"/><circle cx="299.5" cy="195.5" r="2.78"/><circle cx="299.5" cy="192.5" r="2.78"/><circle cx="299.5" cy="196.5" r="2.78"/><circle cx="300.5" cy="192.5" r="2.78"/><circle cx="300.5" cy="195.5" r="2.78"/><circle cx="300.5" cy="198.5" r="2.78"/><circle cx="300.5" cy="194.5" r="2.78"/><circle cx="301.5" cy="194.5" r="2.78"/><circle cx="301.5" cy="196.5" r="2.78"/><circle cx="301.5" cy="194.5" r="2.78"/><circle cx="301.5" cy="193.5" r="2.78"/><circle cx="301.5" cy="195.5" r="2.78"/><circle cx="302.5" cy="195.5" r="2.78"/><circle cx="302.5" cy="195.5" r="2.78"/><circle cx="302.5" cy="193.5" r="2.78"/><circle cx="302.5" cy="197.5" r="2.78"/><circle cx="303.5" cy="197.5" r="2.78"/><circle cx="303.5" cy="194.5" r="2.78"/><circle cx="303.5" cy="195.5" r="2.78"/><circle cx="303.5" cy="193.5" r="2.78"/><circle cx="303.5" cy="197.5" r="2.78"/><circle cx="304.5" cy="193.5" r="2.78"/><circle cx="304.5" cy="195.5" r="2.78"/><circle cx="304.5" cy="193.5" r="2.78"/><circle cx="304.5" cy="193.5" r="2.78"/><circle cx="305.5" cy="196.5" r="2.78"/><circle cx="305.5" cy="197.5" r="2.78"/><circle cx="305.5" cy="194.5" r="2.78"/><circle cx="305.5" cy="193.5" r="2.78"/><circle cx="305.5" cy="196.5" r="2.78"/><circle cx="306.5" cy="194.5" r="2.78"/><circle cx="306.5" cy="195.5" r="2.78"/><circle cx="306.5" cy="197.5" r="2.78"/><circle cx="306.5" cy="196.5" r="2.78"/><circle cx="307.5" cy="193.5" r="2.78"/><circle cx="307.5" cy="198.5" r="2.78"/><circle cx="307.5" cy="194.5" r="2.78"/><circle cx="307.5" cy="196.5" r="2.78"/><circle cx="307.5" cy="193.5" r="2.78"/><circle cx="308.5" cy="194.5" r="2.78"/><circle cx="308.5" cy="191.5" r="2.78"/><circle cx="308.5" cy="198.5" r="2.78"/><circle cx="308.5" cy="197.5" r="2.78"/><circle cx="309.5" cy="192.5" r="2.78"/><circle cx="309.5" cy="191.5" r="2.78"/><circle cx="309.5" cy="191.5" r="2.78"/><circle cx="309.5" cy="196.5" r="2.78"/><circle cx="309.5" cy="193.5" r="2.78"/><circle cx="310.5" cy="194.5" r="2.78"/><circle cx="310.5" cy="194.5" r="2.78"/><circle cx="310.5" cy="194.5" r="2.78"/><circle cx="310.5" cy="192.5" r="2.78"/><circle cx="310.5" cy="194.5" r="2.78"/><circle cx="311.5" cy="191.5" r="2.78"/><circle cx="311.5" cy="194.5" r="2.78"/><circle cx="311.5" cy="195.5" r="2.78"/><circle cx="311.5" cy="195.5" r="2.78"/><circle cx="312.5" cy="194.5" r="2.78"/><circle cx="312.5" cy="192.5" r="2.78"/><circle cx="312.5" cy="194.5" r="2.78"/><circle cx="312.5" cy="193.5" r="2.78"/><circle cx="312.5" cy="197.5" r="2.78"/><circle cx="313.5" cy="196.5" r="2.78"/><circle cx="313.5" cy="194.5" r="2.78"/><circle cx="313.5" cy="193.5" r="2.78"/><circle cx="313.5" cy="193.5" r="2.78"/><circle cx="314.5" cy="192.5" r="2.78"/><circle cx="314.5" cy="193.5" r="2.78"/><circle cx="314.5" cy="195.5" r="2.78"/><circle cx="314.5" cy="195.5" r="2.78"/><circle cx="314.5" cy="195.5" r="2.78"/><circle cx="315.5" cy="198.5" r="2.78"/><circle cx="315.5" cy="193.5" r="2.78"/><circle cx="315.5" cy="194.5" r="2.78"/><circle cx="315.5" cy="198.5" r="2.78"/><circle cx="316.5" cy="191.5" r="2.78"/><circle cx="316.5" cy="193.5" r="2.78"/><circle cx="316.5" cy="194.5" r="2.78"/><circle cx="316.5" cy="194.5" r="2.78"/><circle cx="316.5" cy="195.5" r="2.78"/><circle cx="317.5" cy="194.5" r="2.78"/><circle cx="317.5" cy="195.5" r="2.78"/><circle cx="317.5" cy="194.5" r="2.78"/><circle cx="317.5" cy="196.5" r="2.78"/><circle cx="318.5" cy="191.5" r="2.78"/><circle cx="318.5" cy="192.5" r="2.78"/><circle cx="318.5" cy="194.5" r="2.78"/><circle cx="318.5" cy="192.5" r="2.78"/><circle cx="318.5" cy="192.5" r="2.78"/><circle cx="319.5" cy="195.5" r="2.78"/><circle cx="319.5" cy="193.5" r="2.78"/><circle cx="319.5" cy="195.5" r="2.78"/><circle cx="319.5" cy="196.5" r="2.78"/><circle cx="320.5" cy="195.5" r="2.78"/><circle cx="320.5" cy="195.5" r="2.78"/><circle cx="320.5" cy="194.5" r="2.78"/><circle cx="320.5" cy="191.5" r="2.78"/><circle cx="320.5" cy="194.5" r="2.78"/><circle cx="321.5" cy="195.5" r="2.78"/><circle cx="321.5" cy="193.5" r="2.78"/><circle cx="321.5" cy="194.5" r="2.78"/><circle cx="321.5" cy="196.5" r="2.78"/><circle cx="321.5" cy="192.5" r="2.78"/><circle cx="322.5" cy="195.5" r="2.78"/><circle cx="322.5" cy="198.5" r="2.78"/><circle cx="322.5" cy="193.5" r="2.78"/><circle cx="322.5" cy="194.5" r="2.78"/><circle cx="323.5" cy="194.5" r="2.78"/><circle cx="323.5" cy="197.5" r="2.78"/><circle cx="323.5" cy="195.5" r="2.78"/><circle cx="323.5" cy="196.5" r="2.78"/><circle cx="323.5" cy="193.5" r="2.78"/><circle cx="324.5" cy="194.5" r="2.78"/><circle cx="324.5" cy="194.5" r="2.78"/><circle cx="324.5" cy="191.5" r="2.78"/><circle cx="324.5" cy="197.5" r="2.78"/><circle cx="325.5" cy="196.5" r="2.78"/><circle cx="325.5" cy="191.5" r="2.78"/><circle cx="325.5" cy="196.5" r="2.78"/><circle cx="325.5" cy="194.5" r="2.78"/><circle cx="325.5" cy="195.5" r="2.78"/><circle cx="326.5" cy="195.5" r="2.78"/><circle cx="326.5" cy="191.5" r="2.78"/><circle cx="326.5" cy="194.5" r="2.78"/><circle cx="326.5" cy="197.5" r="2.78"/><circle cx="327.5" cy="193.5" r="2.78"/><circle cx="327.5" cy="192.5" r="2.78"/><circle cx="327.5" cy="192.5" r="2.78"/><circle cx="327.5" cy="192.5" r="2.78"/><circle cx="327.5" cy="195.5" r="2.78"/><circle cx="328.5" cy="197.5" r="2.78"/><circle cx="328.5" cy="195.5" r="2.78"/><circle cx="328.5" cy="195.5" r="2.78"/><circle cx="328.5" cy="198.5" r="2.78"/><circle cx="329.5" cy="193.5" r="2.78"/><circle cx="329.5" cy="193.5" r="2.78"/><circle cx="329.5" cy="195.5" r="2.78"/><circle cx="329.5" cy="195.5" r="2.78"/><circle cx="329.5" cy="192.5" r="2.78"/><circle cx="330.5" cy="192.5" r="2.78"/><circle cx="330.5" cy="195.5" r="2.78"/><circle cx="330.5" cy="195.5" r="2.78"/><circle cx="330.5" cy="192.5" r="2.78"/><circle cx="331.5" cy="194.5" r="2.78"/><circle cx="331.5" cy="193.5" r="2.78"/><circle cx="331.5" cy="195.5" r="2.78"/><circle cx="331.5" cy="194.5" r="2.78"/><circle cx="331.5" cy="194.5" r="2.78"/><circle cx="332.5" cy="193.5" r="2.78"/><circle cx="332.5" cy="196.5" r="2.78"/><circle cx="332.5" cy="197.5" r="2.78"/><circle cx="332.5" cy="193.5" r="2.78"/><circle cx="332.5" cy="196.5" r="2.78"/><circle cx="333.5" cy="193.5" r="2.78"/><circle cx="333.5" cy="194.5" r="2.78"/><circle cx="333.5" cy="196.5" r="2.78"/><circle cx="333.5" cy="197.5" r="2.78"/><circle cx="334.5" cy="193.5" r="2.78"/><circle cx="334.5" cy="194.5" r="2.78"/><circle cx="334.5" cy="195.5" r="2.78"/><circle cx="334.5" cy="191.5" r="2.78"/><circle cx="334.5" cy="194.5" r="2.78"/><circle cx="335.5" cy="193.5" r="2.78"/><circle cx="335.5" cy="195.5" r="2.78"/><circle cx="335.5" cy="192.5" r="2.78"/><circle cx="335.5" cy="190.5" r="2.78"/><circle cx="336.5" cy="194.5" r="2.78"/><circle cx="336.5" cy="195.5" r="2.78"/><circle cx="336.5" cy="193.5" r="2.78"/><circle cx="336.5" cy="196.5" r="2.78"/><circle cx="336.5" cy="194.5" r="2.78"/><circle cx="337.5" cy="193.5" r="2.78"/><circle cx="337.5" cy="195.5" r="2.78"/><circle cx="337.5" cy="191.5" r="2.78"/><circle cx="337.5" cy="193.5" r="2.78"/><circle cx="338.5" cy="194.5" r="2.78"/><circle cx="338.5" cy="196.5" r="2.78"/><circle cx="338.5" cy="194.5" r="2.78"/><circle cx="338.5" cy="195.5" r="2.78"/><circle cx="338.5" cy="193.5" r="2.78"/><circle cx="339.5" cy="195.5" r="2.78"/><circle cx="339.5" cy="197.5" r="2.78"/><circle cx="339.5" cy="193.5" r="2.78"/><circle cx="339.5" cy="198.5" r="2.78"/><circle cx="340.5" cy="193.5" r="2.78"/><circle cx="340.5" cy="194.5" r="2.78"/><circle cx="340.5" cy="194.5" r="2.78"/><circle cx="340.5" cy="196.5" r="2.78"/><circle cx="340.5" cy="192.5" r="2.78"/><circle cx="341.5" cy="190.5" r="2.78"/><circle cx="341.5" cy="195.5" r="2.78"/><circle cx="341.5" cy="196.5" r="2.78"/><circle cx="341.5" cy="195.5" r="2.78"/><circle cx="342.5" cy="198.5" r="2.78"/><circle cx="342.5" cy="195.5" r="2.78"/><circle cx="342.5" cy="195.5" r="2.78"/><circle cx="342.5" cy="196.5" r="2.78"/><circle cx="342.5" cy="195.5" r="2.78"/><circle cx="343.5" cy="197.5" r="2.78"/><circle cx="343.5" cy="192.5" r="2.78"/><circle cx="343.5" cy="193.5" r="2.78"/><circle cx="343.5" cy="190.5" r="2.78"/><circle cx="343.5" cy="196.5" r="2.78"/><circle cx="344.5" cy="193.5" r="2.78"/><circle cx="344.5" cy="196.5" r="2.78"/><circle cx="344.5" cy="198.5" r="2.78"/><circle cx="344.5" cy="194.5" r="2.78"/><circle cx="345.5" cy="194.5" r="2.78"/><circle cx="345.5" cy="193.5" r="2.78"/><circle cx="345.5" cy="193.5" r="2.78"/><circle cx="345.5" cy="193.5" r="2.78"/><circle cx="345.5" cy="195.5" r="2.78"/><circle cx="346.5" cy="194.5" r="2.78"/><circle cx="346.5" cy="194.5" r="2.78"/><circle cx="346.5" cy="194.5" r="2.78"/><circle cx="346.5" cy="196.5" r="2.78"/><circle cx="347.5" cy="195.5" r="2.78"/><circle cx="347.5" cy="194.5" r="2.78"/><circle cx="347.5" cy="195.5" r="2.78"/><circle cx="347.5" cy="194.5" r="2.78"/><circle cx="347.5" cy="192.5" r="2.78"/><circle cx="348.5" cy="197.5" r="2.78"/><circle cx="348.5" cy="196.5" r="2.78"/><circle cx="348.5" cy="193.5" r="2.78"/><circle cx="348.5" cy="197.5" r="2.78"/><circle cx="349.5" cy="196.5" r="2.78"/><circle cx="349.5" cy="193.5" r="2.78"/><circle cx="349.5" cy="199.5" r="2.78"/><circle cx="349.5" cy="196.5" r="2.78"/><circle cx="349.5" cy="198.5" r="2.78"/><circle cx="350.5" cy="197.5" r="2.78"/><circle cx="350.5" cy="196.5" r="2.78"/><circle cx="350.5" cy="194.5" r="2.78"/><circle cx="350.5" cy="199.5" r="2.78"/><circle cx="351.5" cy="197.5" r="2.78"/><circle cx="351.5" cy="196.5" r="2.78"/><circle cx="351.5" cy="198.5" r="2.78"/><circle cx="351.5" cy="198.5" r="2.78"/><circle cx="351.5" cy="199.5" r="2.78"/><circle cx="352.5" cy="197.5" r="2.78"/><circle cx="352.5" cy="198.5" r="2.78"/><circle cx="352.5" cy="194.5" r="2.78"/><circle cx="352.5" cy="197.5" r="2.78"/><circle cx="353.5" cy="200.5" r="2.78"/><circle cx="353.5" cy="201.5" r="2.78"/><circle cx="353.5" cy="198.5" r="2.78"/><circle cx="353.5" cy="199.5" r="2.78"/><circle cx="353.5" cy="202.5" r="2.78"/><circle cx="354.5" cy="199.5" r="2.78"/><circle cx="354.5" cy="201.5" r="2.78"/><circle cx="354.5" cy="203.5" r="2.78"/><circle cx="354.5" cy="200.5" r="2.78"/><circle cx="354.5" cy="202.5" r="2.78"/><circle cx="355.5" cy="198.5" r="2.78"/><circle cx="355.5" cy="200.5" r="2.78"/><circle cx="355.5" cy="199.5" r="2.78"/><circle cx="355.5" cy="200.5" r="2.78"/><circle cx="356.5" cy="202.5" r="2.78"/><circle cx="356.5" cy="203.5" r="2.78"/><circle cx="356.5" cy="198.5" r="2.78"/><circle cx="356.5" cy="198.5" r="2.78"/><circle cx="356.5" cy="200.5" r="2.78"/><circle cx="357.5" cy="197.5" r="2.78"/><circle cx="357.5" cy="200.5" r="2.78"/><circle cx="357.5" cy="200.5" r="2.78"/><circle cx="357.5" cy="199.5" r="2.78"/><circle cx="358.5" cy="200.5" r="2.78"/><circle cx="358.5" cy="196.5" r="2.78"/><circle cx="358.5" cy="201.5" r="2.78"/><circle cx="358.5" cy="196.5" r="2.78"/><circle cx="358.5" cy="198.5" r="2.78"/><circle cx="359.5" cy="198.5" r="2.78"/><circle cx="359.5" cy="198.5" r="2.78"/><circle cx="359.5" cy="201.5" r="2.78"/><circle cx="359.5" cy="199.5" r="2.78"/><circle cx="360.5" cy="198.5" r="2.78"/><circle cx="360.5" cy="200.5" r="2.78"/><circle cx="360.5" cy="202.5" r="2.78"/><circle cx="360.5" cy="199.5" r="2.78"/><circle cx="360.5" cy="200.5" r="2.78"/><circle cx="361.5" cy="201.5" r="2.78"/><circle cx="361.5" cy="199.5" r="2.78"/><circle cx="361.5" cy="196.5" r="2.78"/><circle cx="361.5" cy="203.5" r="2.78"/><circle cx="362.5" cy="203.5" r="2.78"/><circle cx="362.5" cy="195.5" r="2.78"/><circle cx="362.5" cy="198.5" r="2.78"/><circle cx="362.5" cy="199.5" r="2.78"/><circle cx="362.5" cy="200.5" r="2.78"/><circle cx="363.5" cy="200.5" r="2.78"/><circle cx="363.5" cy="198.5" r="2.78"/><circle cx="363.5" cy="196.5" r="2.78"/><circle cx="363.5" cy="198.5" r="2.78"/><circle cx="364.5" cy="200.5" r="2.78"/><circle cx="364.5" cy="196.5" r="2.78"/><circle cx="364.5" cy="196.5" r="2.78"/><circle cx="364.5" cy="198.5" r="2.78"/><circle cx="364.5" cy="194.5" r="2.78"/><circle cx="365.5" cy="197.5" r="2.78"/><circle cx="365.5" cy="197.5" r="2.78"/><circle cx="365.5" cy="198.5" r="2.78"/><circle cx="365.5" cy="196.5" r="2.78"/><circle cx="365.5" cy="195.5" r="2.78"/><circle cx="366.5" cy="196.5" r="2.78"/><circle cx="366.5" cy="197.5" r="2.78"/><circle cx="366.5" cy="196.5" r="2.78"/><circle cx="366.5" cy="197.5" r="2.78"/><circle cx="367.5" cy="198.5" r="2.78"/><circle cx="367.5" cy="199.5" r="2.78"/><circle cx="367.5" cy="200.5" r="2.78"/><circle cx="367.5" cy="195.5" r="2.78"/><circle cx="367.5" cy="196.5" r="2.78"/><circle cx="368.5" cy="192.5" r="2.78"/><circle cx="368.5" cy="200.5" r="2.78"/><circle cx="368.5" cy="195.5" r="2.78"/><circle cx="368.5" cy="196.5" r="2.78"/><circle cx="369.5" cy="197.5" r="2.78"/><circle cx="369.5" cy="193.5" r="2.78"/><circle cx="369.5" cy="197.5" r="2.78"/><circle cx="369.5" cy="196.5" r="2.78"/><circle cx="369.5" cy="192.5" r="2.78"/><circle cx="370.5" cy="196.5" r="2.78"/><circle cx="370.5" cy="198.5" r="2.78"/><circle cx="370.5" cy="191.5" r="2.78"/><circle cx="370.5" cy="196.5" r="2.78"/><circle cx="371.5" cy="195.5" r="2.78"/><circle cx="371.5" cy="195.5" r="2.78"/><circle cx="371.5" cy="195.5" r="2.78"/><circle cx="371.5" cy="197.5" r="2.78"/><circle cx="371.5" cy="194.5" r="2.78"/><circle cx="372.5" cy="196.5" r="2.78"/><circle cx="372.5" cy="193.5" r="2.78"/><circle cx="372.5" cy="195.5" r="2.78"/><circle cx="372.5" cy="192.5" r="2.78"/><circle cx="373.5" cy="193.5" r="2.78"/><circle cx="373.5" cy="197.5" r="2.78"/><circle cx="373.5" cy="194.5" r="2.78"/><circle cx="373.5" cy="193.5" r="2.78"/><circle cx="373.5" cy="191.5" r="2.78"/><circle cx="374.5" cy="192.5" r="2.78"/><circle cx="374.5" cy="194.5" r="2.78"/><circle cx="374.5" cy="195.5" r="2.78"/><circle cx="374.5" cy="194.5" r="2.78"/><circle cx="375.5" cy="194.5" r="2.78"/><circle cx="375.5" cy="193.5" r="2.78"/><circle cx="375.5" cy="196.5" r="2.78"/><circle cx="375.5" cy="193.5" r="2.78"/><circle cx="375.5" cy="192.5" r="2.78"/><circle cx="376.5" cy="195.5" r="2.78"/><circle cx="376.5" cy="193.5" r="2.78"/><circle cx="376.5" cy="193.5" r="2.78"/><circle cx="376.5" cy="192.5" r="2.78"/><circle cx="376.5" cy="193.5" r="2.78"/><circle cx="377.5" cy="195.5" r="2.78"/><circle cx="377.5" cy="194.5" r="2.78"/><circle cx="377.5" cy="191.5" r="2.78"/><circle cx="377.5" cy="194.5" r="2.78"/><circle cx="378.5" cy="194.5" r="2.78"/><circle cx="378.5" cy="191.5" r="2.78"/><circle cx="378.5" cy="195.5" r="2.78"/><circle cx="378.5" cy="193.5" r="2.78"/><circle cx="378.5" cy="193.5" r="2.78"/><circle cx="379.5" cy="195.5" r="2.78"/><circle cx="379.5" cy="196.5" r="2.78"/><circle cx="379.5" cy="192.5" r="2.78"/><circle cx="379.5" cy="194.5" r="2.78"/><circle cx="380.5" cy="192.5" r="2.78"/><circle cx="380.5" cy="197.5" r="2.78"/><circle cx="380.5" cy="192.5" r="2.78"/><circle cx="380.5" cy="196.5" r="2.78"/><circle cx="380.5" cy="192.5" r="2.78"/><circle cx="381.5" cy="195.5" r="2.78"/><circle cx="381.5" cy="197.5" r="2.78"/><circle cx="381.5" cy="189.5" r="2.78"/><circle cx="381.5" cy="193.5" r="2.78"/><circle cx="382.5" cy="194.5" r="2.78"/><circle cx="382.5" cy="193.5" r="2.78"/><circle cx="382.5" cy="192.5" r="2.78"/><circle cx="382.5" cy="197.5" r="2.78"/><circle cx="382.5" cy="194.5" r="2.78"/><circle cx="383.5" cy="190.5" r="2.78"/><circle cx="383.5" cy="195.5" r="2.78"/><circle cx="383.5" cy="190.5" r="2.78"/><circle cx="383.5" cy="196.5" r="2.78"/><circle cx="384.5" cy="192.5" r="2.78"/><circle cx="384.5" cy="194.5" r="2.78"/><circle cx="384.5" cy="196.5" r="2.78"/><circle cx="384.5" cy="194.5" r="2.78"/><circle cx="384.5" cy="191.5" r="2.78"/><circle cx="385.5" cy="190.5" r="2.78"/><circle cx="385.5" cy="196.5" r="2.78"/><circle cx="385.5" cy="195.5" r="2.78"/><circle cx="385.5" cy="192.5" r="2.78"/><circle cx="386.5" cy="195.5" r="2.78"/><circle cx="386.5" cy="194.5" r="2.78"/><circle cx="386.5" cy="195.5" r="2.78"/><circle cx="386.5" cy="189.5" r="2.78"/><circle cx="386.5" cy="193.5" r="2.78"/><circle cx="387.5" cy="195.5" r="2.78"/><circle cx="387.5" cy="195.5" r="2.78"/><circle cx="387.5" cy="195.5" r="2.78"/><circle cx="387.5" cy="189.5" r="2.78"/><circle cx="387.5" cy="194.5" r="2.78"/><circle cx="388.5" cy="194.5" r="2.78"/><circle cx="388.5" cy="197.5" r="2.78"/><circle cx="388.5" cy="192.5" r="2.78"/><circle cx="388.5" cy="193.5" r="2.78"/><circle cx="389.5" cy="193.5" r="2.78"/><circle cx="389.5" cy="195.5" r="2.78"/><circle cx="389.5" cy="193.5" r="2.78"/><circle cx="389.5" cy="196.5" r="2.78"/><circle cx="389.5" cy="192.5" r="2.78"/><circle cx="390.5" cy="194.5" r="2.78"/><circle cx="390.5" cy="192.5" r="2.78"/><circle cx="390.5" cy="194.5" r="2.78"/><circle cx="390.5" cy="192.5" r="2.78"/><circle cx="391.5" cy="190.5" r="2.78"/><circle cx="391.5" cy="195.5" r="2.78"/><circle cx="391.5" cy="194.5" r="2.78"/><circle cx="391.5" cy="192.5" r="2.78"/><circle cx="391.5" cy="194.5" r="2.78"/><circle cx="392.5" cy="195.5" r="2.78"/><circle cx="392.5" cy="191.5" r="2.78"/><circle cx="392.5" cy="193.5" r="2.78"/><circle cx="392.5" cy="194.5" r="2.78"/><circle cx="393.5" cy="194.5" r="2.78"/><circle cx="393.5" cy="193.5" r="2.78"/><circle cx="393.5" cy="189.5" r="2.78"/><circle cx="393.5" cy="196.5" r="2.78"/><circle cx="393.5" cy="194.5" r="2.78"/><circle cx="394.5" cy="193.5" r="2.78"/><circle cx="394.5" cy="193.5" r="2.78"/><circle cx="394.5" cy="194.5" r="2.78"/><circle cx="394.5" cy="193.5" r="2.78"/><circle cx="395.5" cy="191.5" r="2.78"/><circle cx="395.5" cy="192.5" r="2.78"/><circle cx="395.5" cy="192.5" r="2.78"/><circle cx="395.5" cy="192.5" r="2.78"/><circle cx="395.5" cy="191.5" r="2.78"/><circle cx="396.5" cy="195.5" r="2.78"/><circle cx="396.5" cy="191.5" r="2.78"/><circle cx="396.5" cy="195.5" r="2.78"/><circle cx="396.5" cy="191.5" r="2.78"/><circle cx="397.5" cy="194.5" r="2.78"/><circle cx="397.5" cy="196.5" r="2.78"/><circle cx="397.5" cy="194.5" r="2.78"/><circle cx="397.5" cy="192.5" r="2.78"/><circle cx="397.5" cy="193.5" r="2.78"/><circle cx="398.5" cy="194.5" r="2.78"/><circle cx="398.5" cy="190.5" r="2.78"/><circle cx="398.5" cy="192.5" r="2.78"/><circle cx="398.5" cy="194.5" r="2.78"/><circle cx="398.5" cy="192.5" r="2.78"/><circle cx="399.5" cy="194.5" r="2.78"/><circle cx="399.5" cy="195.5" r="2.78"/><circle cx="399.5" cy="195.5" r="2.78"/><circle cx="399.5" cy="195.5" r="2.78"/><circle cx="400.5" cy="194.5" r="2.78"/><circle cx="400.5" cy="193.5" r="2.78"/><circle cx="400.5" cy="193.5" r="2.78"/><circle cx="400.5" cy="193.5" r="2.78"/><circle cx="400.5" cy="193.5" r="2.78"/><circle cx="401.5" cy="193.5" r="2.78"/><circle cx="401.5" cy="190.5" r="2.78"/><circle cx="401.5" cy="193.5" r="2.78"/><circle cx="401.5" cy="193.5" r="2.78"/><circle cx="402.5" cy="191.5" r="2.78"/><circle cx="402.5" cy="193.5" r="2.78"/><circle cx="402.5" cy="195.5" r="2.78"/><circle cx="402.5" cy="194.5" r="2.78"/><circle cx="402.5" cy="198.5" r="2.78"/><circle cx="403.5" cy="190.5" r="2.78"/><circle cx="403.5" cy="194.5" r="2.78"/><circle cx="403.5" cy="191.5" r="2.78"/><circle cx="403.5" cy="196.5" r="2.78"/><circle cx="404.5" cy="198.5" r="2.78"/><circle cx="404.5" cy="190.5" r="2.78"/><circle cx="404.5" cy="194.5" r="2.78"/><circle cx="404.5" cy="195.5" r="2.78"/><circle cx="404.5" cy="194.5" r="2.78"/><circle cx="405.5" cy="195.5" r="2.78"/><circle cx="405.5" cy="190.5" r="2.78"/><circle cx="405.5" cy="196.5" r="2.78"/><circle cx="405.5" cy="195.5" r="2.78"/><circle cx="406.5" cy="194.5" r="2.78"/><circle cx="406.5" cy="193.5" r="2.78"/><circle cx="406.5" cy="195.5" r="2.78"/><circle cx="406.5" cy="193.5" r="2.78"/><circle cx="406.5" cy="195.5" r="2.78"/><circle cx="407.5" cy="193.5" r="2.78"/><circle cx="407.5" cy="190.5" r="2.78"/><circle cx="407.5" cy="194.5" r="2.78"/><circle cx="407.5" cy="195.5" r="2.78"/><circle cx="408.5" cy="196.5" r="2.78"/><circle cx="408.5" cy="192.5" r="2.78"/><circle cx="408.5" cy="194.5" r="2.78"/><circle cx="408.5" cy="195.5" r="2.78"/><circle cx="408.5" cy="194.5" r="2.78"/><circle cx="409.5" cy="197.5" r="2.78"/><circle cx="409.5" cy="198.5" r="2.78"/><circle cx="409.5" cy="192.5" r="2.78"/><circle cx="409.5" cy="191.5" r="2.78"/><circle cx="409.5" cy="196.5" r="2.78"/><circle cx="410.5" cy="197.5" r="2.78"/><circle cx="410.5" cy="196.5" r="2.78"/><circle cx="410.5" cy="196.5" r="2.78"/><circle cx="410.5" cy="193.5" r="2.78"/><circle cx="411.5" cy="193.5" r="2.78"/><circle cx="411.5" cy="196.5" r="2.78"/><circle cx="411.5" cy="192.5" r="2.78"/><circle cx="411.5" cy="191.5" r="2.78"/><circle cx="411.5" cy="192.5" r="2.78"/><circle cx="412.5" cy="198.5" r="2.78"/><circle cx="412.5" cy="198.5" r="2.78"/><circle cx="412.5" cy="193.5" r="2.78"/><circle cx="412.5" cy="193.5" r="2.78"/><circle cx="413.5" cy="195.5" r="2.78"/><circle cx="413.5" cy="193.5" r="2.78"/><circle cx="413.5" cy="197.5" r="2.78"/><circle cx="413.5" cy="194.5" r="2.78"/><circle cx="413.5" cy="192.5" r="2.78"/><circle cx="414.5" cy="197.5" r="2.78"/><circle cx="414.5" cy="193.5" r="2.78"/><circle cx="414.5" cy="195.5" r="2.78"/><circle cx="414.5" cy="194.5" r="2.78"/><circle cx="415.5" cy="194.5" r="2.78"/><circle cx="415.5" cy="195.5" r="2.78"/><circle cx="415.5" cy="193.5" r="2.78"/><circle cx="415.5" cy="191.5" r="2.78"/><circle cx="415.5" cy="190.5" r="2.78"/><circle cx="416.5" cy="192.5" r="2.78"/><circle cx="416.5" cy="193.5" r="2.78"/><circle cx="416.5" cy="194.5" r="2.78"/><circle cx="416.5" cy="194.5" r="2.78"/><circle cx="417.5" cy="195.5" r="2.78"/><circle cx="417.5" cy="194.5" r="2.78"/><circle cx="417.5" cy="193.5" r="2.78"/><circle cx="417.5" cy="193.5" r="2.78"/><circle cx="417.5" cy="190.5" r="2.78"/><circle cx="418.5" cy="194.5" r="2.78"/><circle cx="418.5" cy="195.5" r="2.78"/><circle cx="418.5" cy="195.5" r="2.78"/><circle cx="418.5" cy="194.5" r="2.78"/><circle cx="419.5" cy="194.5" r="2.78"/><circle cx="419.5" cy="196.5" r="2.78"/><circle cx="419.5" cy="194.5" r="2.78"/><circle cx="419.5" cy="196.5" r="2.78"/><circle cx="419.5" cy="195.5" r="2.78"/><circle cx="420.5" cy="195.5" r="2.78"/><circle cx="420.5" cy="197.5" r="2.78"/><circle cx="420.5" cy="193.5" r="2.78"/><circle cx="420.5" cy="193.5" r="2.78"/><circle cx="420.5" cy="193.5" r="2.78"/><circle cx="421.5" cy="193.5" r="2.78"/><circle cx="421.5" cy="197.5" r="2.78"/><circle cx="421.5" cy="197.5" r="2.78"/><circle cx="421.5" cy="194.5" r="2.78"/><circle cx="422.5" cy="195.5" r="2.78"/><circle cx="422.5" cy="196.5" r="2.78"/><circle cx="422.5" cy="196.5" r="2.78"/><circle cx="422.5" cy="196.5" r="2.78"/><circle cx="422.5" cy="192.5" r="2.78"/><circle cx="423.5" cy="193.5" r="2.78"/><circle cx="423.5" cy="195.5" r="2.78"/><circle cx="423.5" cy="197.5" r="2.78"/><circle cx="423.5" cy="194.5" r="2.78"/><circle cx="424.5" cy="193.5" r="2.78"/><circle cx="424.5" cy="193.5" r="2.78"/><circle cx="424.5" cy="193.5" r="2.78"/><circle cx="424.5" cy="193.5" r="2.78"/><circle cx="424.5" cy="197.5" r="2.78"/><circle cx="425.5" cy="193.5" r="2.78"/><circle cx="425.5" cy="194.5" r="2.78"/><circle cx="425.5" cy="198.5" r="2.78"/><circle cx="425.5" cy="196.5" r="2.78"/><circle cx="426.5" cy="195.5" r="2.78"/><circle cx="426.5" cy="193.5" r="2.78"/><circle cx="426.5" cy="195.5" r="2.78"/><circle cx="426.5" cy="197.5" r="2.78"/><circle cx="426.5" cy="195.5" r="2.78"/><circle cx="427.5" cy="197.5" r="2.78"/><circle cx="427.5" cy="194.5" r="2.78"/><circle cx="427.5" cy="195.5" r="2.78"/><circle cx="427.5" cy="194.5" r="2.78"/><circle cx="428.5" cy="195.5" r="2.78"/><circle cx="428.5" cy="197.5" r="2.78"/><circle cx="428.5" cy="191.5" r="2.78"/><circle cx="428.5" cy="194.5" r="2.78"/><circle cx="428.5" cy="195.5" r="2.78"/><circle cx="429.5" cy="193.5" r="2.78"/><circle cx="429.5" cy="194.5" r="2.78"/><circle cx="429.5" cy="196.5" r="2.78"/><circle cx="429.5" cy="198.5" r="2.78"/><circle cx="430.5" cy="195.5" r="2.78"/><circle cx="430.5" cy="195.5" r="2.78"/><circle cx="430.5" cy="191.5" r="2.78"/><circle cx="430.5" cy="198.5" r="2.78"/><circle cx="430.5" cy="194.5" r="2.78"/><circle cx="431.5" cy="194.5" r="2.78"/><circle cx="431.5" cy="192.5" r="2.78"/><circle cx="431.5" cy="194.5" r="2.78"/><circle cx="431.5" cy="192.5" r="2.78"/><circle cx="431.5" cy="194.5" r="2.78"/><circle cx="432.5" cy="195.5" r="2.78"/><circle cx="432.5" cy="194.5" r="2.78"/><circle cx="432.5" cy="195.5" r="2.78"/><circle cx="432.5" cy="193.5" r="2.78"/><circle cx="433.5" cy="197.5" r="2.78"/><circle cx="433.5" cy="193.5" r="2.78"/><circle cx="433.5" cy="191.5" r="2.78"/><circle cx="433.5" cy="194.5" r="2.78"/><circle cx="433.5" cy="193.5" r="2.78"/><circle cx="434.5" cy="192.5" r="2.78"/><circle cx="434.5" cy="193.5" r="2.78"/><circle cx="434.5" cy="195.5" r="2.78"/><circle cx="434.5" cy="192.5" r="2.78"/><circle cx="435.5" cy="194.5" r="2.78"/><circle cx="435.5" cy="197.5" r="2.78"/><circle cx="435.5" cy="195.5" r="2.78"/><circle cx="435.5" cy="194.5" r="2.78"/><circle cx="435.5" cy="194.5" r="2.78"/><circle cx="436.5" cy="194.5" r="2.78"/><circle cx="436.5" cy="194.5" r="2.78"/><circle cx="436.5" cy="196.5" r="2.78"/><circle cx="436.5" cy="194.5" r="2.78"/><circle cx="437.5" cy="190.5" r="2.78"/><circle cx="437.5" cy="194.5" r="2.78"/><circle cx="437.5" cy="192.5" r="2.78"/><circle cx="437.5" cy="195.5" r="2.78"/><circle cx="437.5" cy="193.5" r="2.78"/><circle cx="438.5" cy="194.5" r="2.78"/><circle cx="438.5" cy="198.5" r="2.78"/><circle cx="438.5" cy="192.5" r="2.78"/><circle cx="438.5" cy="192.5" r="2.78"/><circle cx="439.5" cy="191.5" r="2.78"/><circle cx="439.5" cy="190.5" r="2.78"/><circle cx="439.5" cy="191.5" r="2.78"/><circle cx="439.5" cy="195.5" r="2.78"/><circle cx="439.5" cy="193.5" r="2.78"/><circle cx="440.5" cy="191.5" r="2.78"/><circle cx="440.5" cy="191.5" r="2.78"/><circle cx="440.5" cy="195.5" r="2.78"/><circle cx="440.5" cy="193.5" r="2.78"/><circle cx="441.5" cy="193.5" r="2.78"/><circle cx="441.5" cy="195.5" r="2.78"/><circle cx="441.5" cy="197.5" r="2.78"/><circle cx="441.5" cy="198.5" r="2.78"/><circle cx="441.5" cy="196.5" r="2.78"/><circle cx="442.5" cy="194.5" r="2.78"/><circle cx="442.5" cy="194.5" r="2.78"/><circle cx="442.5" cy="198.5" r="2.78"/><circle cx="442.5" cy="197.5" r="2.78"/><circle cx="442.5" cy="194.5" r="2.78"/><circle cx="443.5" cy="195.5" r="2.78"/><circle cx="443.5" cy="195.5" r="2.78"/><circle cx="443.5" cy="194.5" r="2.78"/><circle cx="443.5" cy="193.5" r="2.78"/><circle cx="444.5" cy="192.5" r="2.78"/><circle cx="444.5" cy="193.5" r="2.78"/><circle cx="444.5" cy="191.5" r="2.78"/><circle cx="444.5" cy="196.5" r="2.78"/><circle cx="444.5" cy="195.5" r="2.78"/><circle cx="445.5" cy="192.5" r="2.78"/><circle cx="445.5" cy="197.5" r="2.78"/><circle cx="445.5" cy="196.5" r="2.78"/><circle cx="445.5" cy="191.5" r="2.78"/><circle cx="446.5" cy="198.5" r="2.78"/><circle cx="446.5" cy="196.5" r="2.78"/><circle cx="446.5" cy="198.5" r="2.78"/><circle cx="446.5" cy="192.5" r="2.78"/><circle cx="446.5" cy="195.5" r="2.78"/><circle cx="447.5" cy="195.5" r="2.78"/><circle cx="447.5" cy="195.5" r="2.78"/><circle cx="447.5" cy="194.5" r="2.78"/><circle cx="447.5" cy="196.5" r="2.78"/><circle cx="448.5" cy="191.5" r="2.78"/><circle cx="448.5" cy="192.5" r="2.78"/><circle cx="448.5" cy="192.5" r="2.78"/><circle cx="448.5" cy="193.5" r="2.78"/><circle cx="448.5" cy="193.5" r="2.78"/><circle cx="449.5" cy="195.5" r="2.78"/><circle cx="449.5" cy="195.5" r="2.78"/><circle cx="449.5" cy="194.5" r="2.78"/><circle cx="449.5" cy="193.5" r="2.78"/><circle cx="450.5" cy="193.5" r="2.78"/><circle cx="450.5" cy="196.5" r="2.78"/><circle cx="450.5" cy="196.5" r="2.78"/><circle cx="450.5" cy="194.5" r="2.78"/><circle cx="450.5" cy="194.5" r="2.78"/><circle cx="451.5" cy="197.5" r="2.78"/><circle cx="451.5" cy="193.5" r="2.78"/><circle cx="451.5" cy="195.5" r="2.78"/><circle cx="451.5" cy="196.5" r="2.78"/><circle cx="452.5" cy="194.5" r="2.78"/><circle cx="452.5" cy="196.5" r="2.78"/><circle cx="452.5" cy="192.5" r="2.78"/><circle cx="452.5" cy="196.5" r="2.78"/><circle cx="452.5" cy="195.5" r="2.78"/><circle cx="453.5" cy="191.5" r="2.78"/><circle cx="453.5" cy="195.5" r="2.78"/><circle cx="453.5" cy="192.5" r="2.78"/><circle cx="453.5" cy="197.5" r="2.78"/><circle cx="453.5" cy="193.5" r="2.78"/><circle cx="454.5" cy="194.5" r="2.78"/><circle cx="454.5" cy="195.5" r="2.78"/><circle cx="454.5" cy="194.5" r="2.78"/><circle cx="454.5" cy="195.5" r="2.78"/><circle cx="455.5" cy="193.5" r="2.78"/><circle cx="455.5" cy="195.5" r="2.78"/><circle cx="455.5" cy="194.5" r="2.78"/><circle cx="455.5" cy="195.5" r="2.78"/><circle cx="455.5" cy="190.5" r="2.78"/><circle cx="456.5" cy="196.5" r="2.78"/><circle cx="456.5" cy="194.5" r="2.78"/><circle cx="456.5" cy="191.5" r="2.78"/><circle cx="456.5" cy="194.5" r="2.78"/><circle cx="457.5" cy="195.5" r="2.78"/><circle cx="457.5" cy="196.5" r="2.78"/><circle cx="457.5" cy="192.5" r="2.78"/><circle cx="457.5" cy="197.5" r="2.78"/><circle cx="457.5" cy="194.5" r="2.78"/><circle cx="458.5" cy="198.5" r="2.78"/><circle cx="458.5" cy="194.5" r="2.78"/><circle cx="458.5" cy="195.5" r="2.78"/><circle cx="458.5" cy="193.5" r="2.78"/><circle cx="459.5" cy="192.5" r="2.78"/><circle cx="459.5" cy="196.5" r="2.78"/><circle cx="459.5" cy="196.5" r="2.78"/><circle cx="459.5" cy="197.5" r="2.78"/><circle cx="459.5" cy="196.5" r="2.78"/><circle cx="460.5" cy="193.5" r="2.78"/><circle cx="460.5" cy="191.5" r="2.78"/><circle cx="460.5" cy="193.5" r="2.78"/><circle cx="460.5" cy="193.5" r="2.78"/><circle cx="461.5" cy="193.5" r="2.78"/><circle cx="461.5" cy="195.5" r="2.78"/><circle cx="461.5" cy="195.5" r="2.78"/><circle cx="461.5" cy="194.5" r="2.78"/><circle cx="461.5" cy="194.5" r="2.78"/><circle cx="462.5" cy="194.5" r="2.78"/><circle cx="462.5" cy="195.5" r="2.78"/><circle cx="462.5" cy="196.5" r="2.78"/><circle cx="462.5" cy="196.5" r="2.78"/><circle cx="463.5" cy="193.5" r="2.78"/><circle cx="463.5" cy="191.5" r="2.78"/><circle cx="463.5" cy="197.5" r="2.78"/><circle cx="463.5" cy="194.5" r="2.78"/><circle cx="463.5" cy="196.5" r="2.78"/><circle cx="464.5" cy="191.5" r="2.78"/><circle cx="464.5" cy="194.5" r="2.78"/><circle cx="464.5" cy="194.5" r="2.78"/><circle cx="464.5" cy="191.5" r="2.78"/><circle cx="464.5" cy="193.5" r="2.78"/><circle cx="465.5" cy="196.5" r="2.78"/><circle cx="465.5" cy="196.5" r="2.78"/><circle cx="465.5" cy="197.5" r="2.78"/><circle cx="465.5" cy="193.5" r="2.78"/><circle cx="466.5" cy="191.5" r="2.78"/><circle cx="466.5" cy="195.5" r="2.78"/><circle cx="466.5" cy="196.5" r="2.78"/><circle cx="466.5" cy="195.5" r="2.78"/><circle cx="466.5" cy="192.5" r="2.78"/><circle cx="467.5" cy="196.5" r="2.78"/><circle cx="467.5" cy="196.5" r="2.78"/><circle cx="467.5" cy="195.5" r="2.78"/><circle cx="467.5" cy="193.5" r="2.78"/><circle cx="468.5" cy="195.5" r="2.78"/><circle cx="468.5" cy="196.5" r="2.78"/><circle cx="468.5" cy="193.5" r="2.78"/><circle cx="468.5" cy="191.5" r="2.78"/><circle cx="468.5" cy="195.5" r="2.78"/><circle cx="469.5" cy="195.5" r="2.78"/><circle cx="469.5" cy="194.5" r="2.78"/><circle cx="469.5" cy="196.5" r="2.78"/><circle cx="469.5" cy="193.5" r="2.78"/><circle cx="470.5" cy="194.5" r="2.78"/><circle cx="470.5" cy="194.5" r="2.78"/><circle cx="470.5" cy="195.5" r="2.78"/><circle cx="470.5" cy="197.5" r="2.78"/><circle cx="470.5" cy="194.5" r="2.78"/><circle cx="471.5" cy="198.5" r="2.78"/><circle cx="471.5" cy="197.5" r="2.78"/><circle cx="471.5" cy="196.5" r="2.78"/><circle cx="471.5" cy="195.5" r="2.78"/><circle cx="472.5" cy="198.5" r="2.78"/><circle cx="472.5" cy="194.5" r="2.78"/><circle cx="472.5" cy="194.5" r="2.78"/><circle cx="472.5" cy="192.5" r="2.78"/><circle cx="472.5" cy="195.5" r="2.78"/><circle cx="473.5" cy="197.5" r="2.78"/><circle cx="473.5" cy="195.5" r="2.78"/><circle cx="473.5" cy="195.5" r="2.78"/><circle cx="473.5" cy="194.5" r="2.78"/><circle cx="474.5" cy="194.5" r="2.78"/><circle cx="474.5" cy="191.5" r="2.78"/><circle cx="474.5" cy="196.5" r="2.78"/><circle cx="474.5" cy="193.5" r="2.78"/><circle cx="474.5" cy="192.5" r="2.78"/><circle cx="475.5" cy="193.5" r="2.78"/><circle cx="475.5" cy="193.5" r="2.78"/><circle cx="475.5" cy="196.5" r="2.78"/><circle cx="475.5" cy="196.5" r="2.78"/><circle cx="475.5" cy="192.5" r="2.78"/><circle cx="476.5" cy="196.5" r="2.78"/><circle cx="476.5" cy="196.5" r="2.78"/><circle cx="476.5" cy="193.5" r="2.78"/><circle cx="476.5" cy="191.5" r="2.78"/><circle cx="477.5" cy="193.5" r="2.78"/><circle cx="477.5" cy="193.5" r="2.78"/><circle cx="477.5" cy="195.5" r="2.78"/><circle cx="477.5" cy="193.5" r="2.78"/><circle cx="477.5" cy="190.5" r="2.78"/><circle cx="478.5" cy="195.5" r="2.78"/><circle cx="478.5" cy="191.5" r="2.78"/><circle cx="478.5" cy="196.5" r="2.78"/><circle cx="478.5" cy="192.5" r="2.78"/><circle cx="479.5" cy="193.5" r="2.78"/><circle cx="479.5" cy="193.5" r="2.78"/><circle cx="479.5" cy="193.5" r="2.78"/><circle cx="479.5" cy="197.5" r="2.78"/><circle cx="479.5" cy="196.5" r="2.78"/><circle cx="480.5" cy="195.5" r="2.78"/><circle cx="480.5" cy="195.5" r="2.78"/><circle cx="480.5" cy="191.5" r="2.78"/><circle cx="480.5" cy="193.5" r="2.78"/><circle cx="481.5" cy="193.5" r="2.78"/><circle cx="481.5" cy="192.5" r="2.78"/><circle cx="481.5" cy="195.5" r="2.78"/><circle cx="481.5" cy="193.5" r="2.78"/><circle cx="481.5" cy="193.5" r="2.78"/><circle cx="482.5" cy="192.5" r="2.78"/><circle cx="482.5" cy="190.5" r="2.78"/><circle cx="482.5" cy="195.5" r="2.78"/><circle cx="482.5" cy="197.5" r="2.78"/><circle cx="483.5" cy="194.5" r="2.78"/><circle cx="483.5" cy="192.5" r="2.78"/><circle cx="483.5" cy="190.5" r="2.78"/><circle cx="483.5" cy="194.5" r="2.78"/><circle cx="483.5" cy="196.5" r="2.78"/><circle cx="484.5" cy="195.5" r="2.78"/><circle cx="484.5" cy="196.5" r="2.78"/><circle cx="484.5" cy="197.5" r="2.78"/><circle cx="484.5" cy="196.5" r="2.78"/><circle cx="485.5" cy="193.5" r="2.78"/><circle cx="485.5" cy="196.5" r="2.78"/><circle cx="485.5" cy="196.5" r="2.78"/><circle cx="485.5" cy="191.5" r="2.78"/><circle cx="485.5" cy="193.5" r="2.78"/><circle cx="486.5" cy="191.5" r="2.78"/><circle cx="486.5" cy="194.5" r="2.78"/><circle cx="486.5" cy="195.5" r="2.78"/><circle cx="486.5" cy="192.5" r="2.78"/><circle cx="486.5" cy="190.5" r="2.78"/><circle cx="487.5" cy="197.5" r="2.78"/><circle cx="487.5" cy="195.5" r="2.78"/><circle cx="487.5" cy="197.5" r="2.78"/><circle cx="487.5" cy="192.5" r="2.78"/><circle cx="488.5" cy="196.5" r="2.78"/><circle cx="488.5" cy="198.5" r="2.78"/><circle cx="488.5" cy="198.5" r="2.78"/><circle cx="488.5" cy="194.5" r="2.78"/><circle cx="488.5" cy="195.5" r="2.78"/><circle cx="489.5" cy="194.5" r="2.78"/><circle cx="489.5" cy="196.5" r="2.78"/><circle cx="489.5" cy="196.5" r="2.78"/><circle cx="489.5" cy="194.5" r="2.78"/><circle cx="490.5" cy="192.5" r="2.78"/><circle cx="490.5" cy="196.5" r="2.78"/><circle cx="490.5" cy="193.5" r="2.78"/><circle cx="490.5" cy="195.5" r="2.78"/><circle cx="490.5" cy="195.5" r="2.78"/><circle cx="491.5" cy="197.5" r="2.78"/><circle cx="491.5" cy="196.5" r="2.78"/><circle cx="491.5" cy="193.5" r="2.78"/><circle cx="491.5" cy="195.5" r="2.78"/><circle cx="492.5" cy="198.5" r="2.78"/><circle cx="492.5" cy="193.5" r="2.78"/><circle cx="492.5" cy="195.5" r="2.78"/><circle cx="492.5" cy="196.5" r="2.78"/><circle cx="492.5" cy="197.5" r="2.78"/><circle cx="493.5" cy="195.5" r="2.78"/><circle cx="493.5" cy="192.5" r="2.78"/><circle cx="493.5" cy="192.5" r="2.78"/><circle cx="493.5" cy="195.5" r="2.78"/><circle cx="494.5" cy="195.5" r="2.78"/><circle cx="494.5" cy="198.5" r="2.78"/><circle cx="494.5" cy="193.5" r="2.78"/><circle cx="494.5" cy="196.5" r="2.78"/><circle cx="494.5" cy="196.5" r="2.78"/><circle cx="495.5" cy="191.5" r="2.78"/><circle cx="495.5" cy="193.5" r="2.78"/><circle cx="495.5" cy="194.5" r="2.78"/><circle cx="495.5" cy="193.5" r="2.78"/><circle cx="496.5" cy="194.5" r="2.78"/><circle cx="496.5" cy="195.5" r="2.78"/><circle cx="496.5" cy="193.5" r="2.78"/><circle cx="496.5" cy="195.5" r="2.78"/><circle cx="496.5" cy="193.5" r="2.78"/><circle cx="497.5" cy="193.5" r="2.78"/><circle cx="497.5" cy="195.5" r="2.78"/><circle cx="497.5" cy="193.5" r="2.78"/><circle cx="497.5" cy="195.5" r="2.78"/><circle cx="497.5" cy="197.5" r="2.78"/><circle cx="498.5" cy="194.5" r="2.78"/><circle cx="498.5" cy="194.5" r="2.78"/><circle cx="498.5" cy="196.5" r="2.78"/><circle cx="498.5" cy="193.5" r="2.78"/><circle cx="499.5" cy="196.5" r="2.78"/><circle cx="499.5" cy="192.5" r="2.78"/><circle cx="499.5" cy="195.5" r="2.78"/><circle cx="499.5" cy="193.5" r="2.78"/><circle cx="499.5" cy="193.5" r="2.78"/><circle cx="500.5" cy="198.5" r="2.78"/><circle cx="500.5" cy="193.5" r="2.78"/><circle cx="500.5" cy="197.5" r="2.78"/><circle cx="500.5" cy="195.5" r="2.78"/><circle cx="501.5" cy="197.5" r="2.78"/><circle cx="501.5" cy="192.5" r="2.78"/><circle cx="501.5" cy="196.5" r="2.78"/><circle cx="501.5" cy="197.5" r="2.78"/><circle cx="501.5" cy="194.5" r="2.78"/><circle cx="502.5" cy="194.5" r="2.78"/><circle cx="502.5" cy="198.5" r="2.78"/><circle cx="502.5" cy="194.5" r="2.78"/><circle cx="502.5" cy="193.5" r="2.78"/><circle cx="503.5" cy="193.5" r="2.78"/><circle cx="503.5" cy="195.5" r="2.78"/><circle cx="503.5" cy="195.5" r="2.78"/><circle cx="503.5" cy="194.5" r="2.78"/><circle cx="503.5" cy="197.5" r="2.78"/><circle cx="504.5" cy="194.5" r="2.78"/><circle cx="504.5" cy="195.5" r="2.78"/><circle cx="504.5" cy="197.5" r="2.78"/><circle cx="504.5" cy="192.5" r="2.78"/><circle cx="505.5" cy="196.5" r="2.78"/><circle cx="505.5" cy="198.5" r="2.78"/><circle cx="505.5" cy="192.5" r="2.78"/><circle cx="505.5" cy="192.5" r="2.78"/><circle cx="505.5" cy="192.5" r="2.78"/><circle cx="506.5" cy="191.5" r="2.78"/><circle cx="506.5" cy="195.5" r="2.78"/><circle cx="506.5" cy="191.5" r="2.78"/><circle cx="506.5" cy="195.5" r="2.78"/><circle cx="507.5" cy="197.5" r="2.78"/><circle cx="507.5" cy="191.5" r="2.78"/><circle cx="507.5" cy="194.5" r="2.78"/><circle cx="507.5" cy="191.5" r="2.78"/><circle cx="507.5" cy="196.5" r="2.78"/><circle cx="508.5" cy="193.5" r="2.78"/><circle cx="508.5" cy="194.5" r="2.78"/><circle cx="508.5" cy="194.5" r="2.78"/><circle cx="508.5" cy="195.5" r="2.78"/><circle cx="508.5" cy="193.5" r="2.78"/><circle cx="509.5" cy="194.5" r="2.78"/><circle cx="509.5" cy="193.5" r="2.78"/><circle cx="509.5" cy="194.5" r="2.78"/><circle cx="509.5" cy="192.5" r="2.78"/><circle cx="510.5" cy="194.5" r="2.78"/><circle cx="510.5" cy="190.5" r="2.78"/><circle cx="510.5" cy="193.5" r="2.78"/><circle cx="510.5" cy="198.5" r="2.78"/><circle cx="510.5" cy="194.5" r="2.78"/><circle cx="511.5" cy="192.5" r="2.78"/><circle cx="511.5" cy="195.5" r="2.78"/><circle cx="511.5" cy="192.5" r="2.78"/><circle cx="511.5" cy="191.5" r="2.78"/><circle cx="512.5" cy="193.5" r="2.78"/><circle cx="512.5" cy="196.5" r="2.78"/><circle cx="512.5" cy="195.5" r="2.78"/><circle cx="512.5" cy="194.5" r="2.78"/><circle cx="512.5" cy="192.5" r="2.78"/><circle cx="513.5" cy="192.5" r="2.78"/><circle cx="513.5" cy="197.5" r="2.78"/><circle cx="513.5" cy="195.5" r="2.78"/><circle cx="513.5" cy="192.5" r="2.78"/><circle cx="514.5" cy="190.5" r="2.78"/><circle cx="514.5" cy="192.5" r="2.78"/><circle cx="514.5" cy="198.5" r="2.78"/><circle cx="514.5" cy="192.5" r="2.78"/><circle cx="514.5" cy="194.5" r="2.78"/><circle cx="515.5" cy="195.5" r="2.78"/><circle cx="515.5" cy="194.5" r="2.78"/><circle cx="515.5" cy="194.5" r="2.78"/><circle cx="515.5" cy="192.5" r="2.78"/><circle cx="516.5" cy="192.5" r="2.78"/><circle cx="516.5" cy="197.5" r="2.78"/><circle cx="516.5" cy="193.5" r="2.78"/><circle cx="516.5" cy="196.5" r="2.78"/><circle cx="516.5" cy="191.5" r="2.78"/><circle cx="517.5" cy="194.5" r="2.78"/><circle cx="517.5" cy="195.5" r="2.78"/><circle cx="517.5" cy="196.5" r="2.78"/><circle cx="517.5" cy="192.5" r="2.78"/><circle cx="518.5" cy="195.5" r="2.78"/><circle cx="518.5" cy="195.5" r="2.78"/><circle cx="518.5" cy="193.5" r="2.78"/><circle cx="518.5" cy="195.5" r="2.78"/><circle cx="518.5" cy="192.5" r="2.78"/><circle cx="519.5" cy="193.5" r="2.78"/><circle cx="519.5" cy="194.5" r="2.78"/><circle cx="519.5" cy="190.5" r="2.78"/><circle cx="519.5" cy="194.5" r="2.78"/><circle cx="519.5" cy="192.5" r="2.78"/><circle cx="520.5" cy="191.5" r="2.78"/><circle cx="520.5" cy="193.5" r="2.78"/><circle cx="520.5" cy="196.5" r="2.78"/><circle cx="520.5" cy="193.5" r="2.78"/><circle cx="521.5" cy="197.5" r="2.78"/><circle cx="521.5" cy="192.5" r="2.78"/><circle cx="521.5" cy="192.5" r="2.78"/><circle cx="521.5" cy="197.5" r="2.78"/><circle cx="521.5" cy="195.5" r="2.78"/><circle cx="522.5" cy="196.5" r="2.78"/><circle cx="522.5" cy="193.5" r="2.78"/><circle cx="522.5" cy="196.5" r="2.78"/><circle cx="522.5" cy="195.5" r="2.78"/><circle cx="523.5" cy="195.5" r="2.78"/><circle cx="523.5" cy="194.5" r="2.78"/><circle cx="523.5" cy="196.5" r="2.78"/><circle cx="523.5" cy="193.5" r="2.78"/><circle cx="523.5" cy="192.5" r="2.78"/><circle cx="524.5" cy="191.5" r="2.78"/><circle cx="524.5" cy="196.5" r="2.78"/><circle cx="524.5" cy="193.5" r="2.78"/><circle cx="524.5" cy="192.5" r="2.78"/><circle cx="525.5" cy="192.5" r="2.78"/><circle cx="525.5" cy="193.5" r="2.78"/><circle cx="525.5" cy="192.5" r="2.78"/><circle cx="525.5" cy="194.5" r="2.78"/><circle cx="525.5" cy="193.5" r="2.78"/><circle cx="526.5" cy="193.5" r="2.78"/><circle cx="526.5" cy="192.5" r="2.78"/><circle cx="526.5" cy="194.5" r="2.78"/><circle cx="526.5" cy="193.5" r="2.78"/><circle cx="527.5" cy="194.5" r="2.78"/><circle cx="527.5" cy="195.5" r="2.78"/><circle cx="527.5" cy="195.5" r="2.78"/><circle cx="527.5" cy="190.5" r="2.78"/><circle cx="527.5" cy="193.5" r="2.78"/><circle cx="528.5" cy="193.5" r="2.78"/><circle cx="528.5" cy="196.5" r="2.78"/><circle cx="528.5" cy="191.5" r="2.78"/><circle cx="528.5" cy="193.5" r="2.78"/><circle cx="529.5" cy="194.5" r="2.78"/><circle cx="529.5" cy="194.5" r="2.78"/><circle cx="529.5" cy="196.5" r="2.78"/><circle cx="529.5" cy="193.5" r="2.78"/><circle cx="529.5" cy="196.5" r="2.78"/><circle cx="530.5" cy="191.5" r="2.78"/><circle cx="530.5" cy="191.5" r="2.78"/><circle cx="530.5" cy="196.5" r="2.78"/><circle cx="530.5" cy="195.5" r="2.78"/><circle cx="530.5" cy="195.5" r="2.78"/><circle cx="531.5" cy="194.5" r="2.78"/><circle cx="531.5" cy="195.5" r="2.78"/><circle cx="531.5" cy="192.5" r="2.78"/><circle cx="531.5" cy="196.5" r="2.78"/><circle cx="532.5" cy="193.5" r="2.78"/><circle cx="532.5" cy="196.5" r="2.78"/><circle cx="532.5" cy="194.5" r="2.78"/><circle cx="532.5" cy="190.5" r="2.78"/><circle cx="532.5" cy="192.5" r="2.78"/><circle cx="533.5" cy="196.5" r="2.78"/><circle cx="533.5" cy="194.5" r="2.78"/><circle cx="533.5" cy="193.5" r="2.78"/><circle cx="533.5" cy="195.5" r="2.78"/><circle cx="534.5" cy="193.5" r="2.78"/><circle cx="534.5" cy="193.5" r="2.78"/><circle cx="534.5" cy="194.5" r="2.78"/><circle cx="534.5" cy="194.5" r="2.78"/><circle cx="534.5" cy="197.5" r="2.78"/><circle cx="535.5" cy="194.5" r="2.78"/><circle cx="535.5" cy="198.5" r="2.78"/><circle cx="535.5" cy="198.5" r="2.78"/><circle cx="535.5" cy="197.5" r="2.78"/><circle cx="536.5" cy="196.5" r="2.78"/><circle cx="536.5" cy="194.5" r="2.78"/><circle cx="536.5" cy="194.5" r="2.78"/><circle cx="536.5" cy="194.5" r="2.78"/><circle cx="536.5" cy="193.5" r="2.78"/><circle cx="537.5" cy="194.5" r="2.78"/><circle cx="537.5" cy="193.5" r="2.78"/><circle cx="537.5" cy="197.5" r="2.78"/><circle cx="537.5" cy="195.5" r="2.78"/><circle cx="538.5" cy="193.5" r="2.78"/><circle cx="538.5" cy="191.5" r="2.78"/><circle cx="538.5" cy="194.5" r="2.78"/><circle cx="538.5" cy="193.5" r="2.78"/><circle cx="538.5" cy="192.5" r="2.78"/><circle cx="539.5" cy="192.5" r="2.78"/><circle cx="539.5" cy="190.5" r="2.78"/><circle cx="539.5" cy="195.5" r="2.78"/><circle cx="539.5" cy="194.5" r="2.78"/><circle cx="540.5" cy="204.5" r="2.78"/><circle cx="540.5" cy="199.5" r="2.78"/><circle cx="540.5" cy="198.5" r="2.78"/><circle cx="540.5" cy="202.5" r="2.78"/><circle cx="540.5" cy="198.5" r="2.78"/><circle cx="541.5" cy="198.5" r="2.78"/><circle cx="541.5" cy="196.5" r="2.78"/><circle cx="541.5" cy="195.5" r="2.78"/><circle cx="541.5" cy="200.5" r="2.78"/><circle cx="541.5" cy="199.5" r="2.78"/><circle cx="542.5" cy="200.5" r="2.78"/><circle cx="542.5" cy="195.5" r="2.78"/><circle cx="542.5" cy="195.5" r="2.78"/><circle cx="542.5" cy="193.5" r="2.78"/><circle cx="543.5" cy="197.5" r="2.78"/><circle cx="543.5" cy="191.5" r="2.78"/><circle cx="543.5" cy="195.5" r="2.78"/><circle cx="543.5" cy="196.5" r="2.78"/><circle cx="543.5" cy="197.5" r="2.78"/><circle cx="544.5" cy="191.5" r="2.78"/><circle cx="544.5" cy="195.5" r="2.78"/><circle cx="544.5" cy="190.5" r="2.78"/><circle cx="544.5" cy="190.5" r="2.78"/><circle cx="545.5" cy="188.5" r="2.78"/><circle cx="545.5" cy="194.5" r="2.78"/><circle cx="545.5" cy="195.5" r="2.78"/><circle cx="545.5" cy="189.5" r="2.78"/><circle cx="545.5" cy="189.5" r="2.78"/><circle cx="546.5" cy="190.5" r="2.78"/><circle cx="546.5" cy="196.5" r="2.78"/><circle cx="546.5" cy="193.5" r="2.78"/><circle cx="182.5" cy="188.5" r="2.78"/><circle cx="182.5" cy="202.5" r="2.78"/><circle cx="183.5" cy="187.5" r="2.78"/><circle cx="183.5" cy="202.5" r="2.78"/><circle cx="204.5" cy="199.5" r="2.78"/><circle cx="241.5" cy="190.5" r="2.78"/><circle cx="273.5" cy="190.5" r="2.78"/><circle cx="292.5" cy="189.5" r="2.78"/><circle cx="390.5" cy="188.5" r="2.78"/><circle cx="449.5" cy="190.5" r="2.78"/><circle cx="467.5" cy="199.5" r="2.78"/><circle cx="495.5" cy="190.5" r="2.78"/><circle cx="544.5" cy="187.5" r="2.78"/><circle cx="545.5" cy="187.5" r="2.78"/><circle cx="543.5" cy="188.5" r="2.78"/><circle cx="541.5" cy="202.5" r="2.78"/><circle cx="542.5" cy="202.5" r="2.78"/><circle cx="547.5" cy="190.5" r="2.78"/><circle cx="547.5" cy="192.5" r="2.78"/><circle cx="553.5" cy="196.5" r="2.78"/></g>
<polyline points="149.2,194.5 156,194.6 158.5,196 160.5,194.9 166,194.6 170.4,194.6 171.5,195 171.9,235 172.15,298.7" fill="none" stroke="#bf00bf" stroke-width="2.08" stroke-linejoin="round" stroke-linecap="butt"/>
<polyline points="173.05,273.75 173.08,225 173.2,200 173.55,192.5 174.3,193.5 174.9,201.5 175.25,195 175.9,189.8 176.8,188 178.8,187.9 179.8,190.5 180.8,194 183,195.2 186,195.85 188,195.86 190,195.79 192,195.64 194,195.44 196,195.24 198,195.07 200,194.97 202,194.94 204,194.98 206,195.06 208,195.14 210,195.19 212,195.2 214,195.15 216,195.06 218,194.97 220,194.9 222,194.9 224,194.98 226,195.12 228,195.32 230,195.52 232,195.7 234,195.81 236,195.84 238,195.79 240,195.68 242,195.54 244,195.41 246,195.33 248,195.31 250,195.34 252,195.39 254,195.45 256,195.46 258,195.42 260,195.31 262,195.15 264,194.97 266,194.82 268,194.72 270,194.71 272,194.78 274,194.93 276,195.11 278,195.29 280,195.43 282,195.51 284,195.53 286,195.48 288,195.42 290,195.37 292,195.35 294,195.4 296,195.49 298,195.61 300,195.73 302,195.8 304,195.8 306,195.71 308,195.55 310,195.35 312,195.14 314,194.97 316,194.87 318,194.84 320,194.89 322,194.99 324,195.09 326,195.18 328,195.22 330,195.2 332,195.14 334,195.07 336,195.01 338,195.01 340,195.08 342,195.22 344,195.41 346,195.6 348,195.77 350,196.5 352,196.82 354,196.93 356,196.87 358,196.71 360,196.49 362,196.26 364,196.05 366,195.87 368,195.71 370,195.54 372,195.35 374,195.32 376,195.23 378,195.1 380,194.95 382,194.82 384,194.74 386,194.74 388,194.83 390,194.99 392,195.19 394,195.38 396,195.54 398,195.63 400,195.64 402,195.6 404,195.52 406,195.44 408,195.4 410,195.41 412,195.47 414,195.56 416,195.66 418,195.71 420,195.7 422,195.61 424,195.45 426,195.25 428,195.05 430,194.88 432,194.78 434,194.77 436,194.83 438,194.95 440,195.08 442,195.2 444,195.27 446,195.28 448,195.24 450,195.18 452,195.14 454,195.13 456,195.19 458,195.31 460,195.48 462,195.66 464,195.81 466,195.89 468,195.89 470,195.8 472,195.65 474,195.46 476,195.29 478,195.16 480,195.09 482,195.09 484,195.14 486,195.2 488,195.25 490,195.25 492,195.19 494,195.09 496,194.96 498,194.85 500,194.79 502,194.81 504,194.91 506,195.07 508,195.28 510,195.48 512,195.64 514,195.73 516,195.75 518,195.69 520,195.59 522,195.48 524,195.41 526,195.39 528,195.42 530,195.48 532,195.56 534,195.6 536,195.59 538,195.51 540,195.36 541,195.6" fill="none" stroke="#bf00bf" stroke-width="2.08" stroke-linejoin="round" stroke-linecap="butt"/>
<polyline points="149.2,194.5 156,194.6 158.5,196 160.5,194.9 166,194.6 170.4,194.6" fill="none" stroke="#bf00bf" stroke-width="2.45" stroke-linejoin="round" stroke-linecap="butt"/>
<polyline points="183,195.2 186,195.85 188,195.86 190,195.79 192,195.64 194,195.44 196,195.24 198,195.07 200,194.97 202,194.94 204,194.98 206,195.06 208,195.14 210,195.19 212,195.2 214,195.15 216,195.06 218,194.97 220,194.9 222,194.9 224,194.98 226,195.12 228,195.32 230,195.52 232,195.7 234,195.81 236,195.84 238,195.79 240,195.68 242,195.54 244,195.41 246,195.33 248,195.31 250,195.34 252,195.39 254,195.45 256,195.46 258,195.42 260,195.31 262,195.15 264,194.97 266,194.82 268,194.72 270,194.71 272,194.78 274,194.93 276,195.11 278,195.29 280,195.43 282,195.51 284,195.53 286,195.48 288,195.42 290,195.37 292,195.35 294,195.4 296,195.49 298,195.61 300,195.73 302,195.8 304,195.8 306,195.71 308,195.55 310,195.35 312,195.14 314,194.97 316,194.87 318,194.84 320,194.89 322,194.99 324,195.09 326,195.18 328,195.22 330,195.2 332,195.14 334,195.07 336,195.01 338,195.01 340,195.08 342,195.22 344,195.41 346,195.6 348,195.77 350,196.5 352,196.82 354,196.93 356,196.87 358,196.71 360,196.49 362,196.26 364,196.05 366,195.87 368,195.71 370,195.54 372,195.35 374,195.32 376,195.23 378,195.1 380,194.95 382,194.82 384,194.74 386,194.74 388,194.83 390,194.99 392,195.19 394,195.38 396,195.54 398,195.63 400,195.64 402,195.6 404,195.52 406,195.44 408,195.4 410,195.41 412,195.47 414,195.56 416,195.66 418,195.71 420,195.7 422,195.61 424,195.45 426,195.25 428,195.05 430,194.88 432,194.78 434,194.77 436,194.83 438,194.95 440,195.08 442,195.2 444,195.27 446,195.28 448,195.24 450,195.18 452,195.14 454,195.13 456,195.19 458,195.31 460,195.48 462,195.66 464,195.81 466,195.89 468,195.89 470,195.8 472,195.65 474,195.46 476,195.29 478,195.16 480,195.09 482,195.09 484,195.14 486,195.2 488,195.25 490,195.25 492,195.19 494,195.09 496,194.96 498,194.85 500,194.79 502,194.81 504,194.91 506,195.07 508,195.28 510,195.48 512,195.64 514,195.73 516,195.75 518,195.69 520,195.59 522,195.48 524,195.41 526,195.39 528,195.42 530,195.48 532,195.56 534,195.6 536,195.59 538,195.51 540,195.36 541,195.6" fill="none" stroke="#bf00bf" stroke-width="2.45" stroke-linejoin="round" stroke-linecap="butt"/>
<polyline points="541,195.6 543,193.6 544.5,190.8 545.7,189.8 546.8,192 548,198.6 549,202.4 550.2,202.8 551.5,201 552.8,199.6" fill="none" stroke="#bf00bf" stroke-width="3" stroke-linejoin="round" stroke-linecap="butt"/>
</g>
<g clip-path="url(#c3)">
<g fill="#000"><circle cx="161.5" cy="310.5" r="2.78"/><circle cx="161.5" cy="322.5" r="2.78"/><circle cx="153.5" cy="368.5" r="2.78"/><circle cx="153.5" cy="379.5" r="2.78"/><circle cx="159.5" cy="398.5" r="2.78"/><circle cx="154.5" cy="405.5" r="2.78"/><circle cx="188.5" cy="414.5" r="2.78"/><circle cx="187.5" cy="413.5" r="2.78"/><circle cx="190.5" cy="415.5" r="2.78"/><circle cx="185.5" cy="412.5" r="2.78"/><circle cx="186.5" cy="415.5" r="2.78"/><circle cx="188.5" cy="413.5" r="2.78"/><circle cx="187.5" cy="416.5" r="2.78"/><circle cx="184.5" cy="412.5" r="2.78"/><circle cx="182.5" cy="414.5" r="2.78"/><circle cx="187.5" cy="415.5" r="2.78"/><circle cx="189.5" cy="414.5" r="2.78"/><circle cx="189.5" cy="414.5" r="2.78"/><circle cx="189.5" cy="415.5" r="2.78"/><circle cx="184.5" cy="413.5" r="2.78"/><circle cx="189.5" cy="414.5" r="2.78"/><circle cx="190.5" cy="412.5" r="2.78"/><circle cx="185.5" cy="415.5" r="2.78"/><circle cx="189.5" cy="415.5" r="2.78"/><circle cx="184.5" cy="414.5" r="2.78"/><circle cx="184.5" cy="411.5" r="2.78"/><circle cx="187.5" cy="413.5" r="2.78"/><circle cx="184.5" cy="413.5" r="2.78"/><circle cx="184.5" cy="414.5" r="2.78"/><circle cx="186.5" cy="412.5" r="2.78"/><circle cx="183.5" cy="412.5" r="2.78"/><circle cx="185.5" cy="412.5" r="2.78"/><circle cx="189.5" cy="415.5" r="2.78"/><circle cx="190.5" cy="414.5" r="2.78"/><circle cx="202.5" cy="414.5" r="2.78"/><circle cx="203.5" cy="415.5" r="2.78"/><circle cx="204.5" cy="417.5" r="2.78"/><circle cx="206.5" cy="416.5" r="2.78"/><circle cx="207.5" cy="416.5" r="2.78"/><circle cx="209.5" cy="417.5" r="2.78"/><circle cx="210.5" cy="418.5" r="2.78"/><circle cx="212.5" cy="416.5" r="2.78"/><circle cx="214.5" cy="411.5" r="2.78"/><circle cx="214.5" cy="413.5" r="2.78"/><circle cx="215.5" cy="414.5" r="2.78"/><circle cx="217.5" cy="414.5" r="2.78"/><circle cx="218.5" cy="415.5" r="2.78"/><circle cx="220.5" cy="414.5" r="2.78"/><circle cx="221.5" cy="415.5" r="2.78"/><circle cx="222.5" cy="414.5" r="2.78"/><circle cx="224.5" cy="414.5" r="2.78"/><circle cx="224.5" cy="416.5" r="2.78"/><circle cx="219.5" cy="413.5" r="2.78"/><circle cx="232.5" cy="417.5" r="2.78"/><circle cx="234.5" cy="415.5" r="2.78"/><circle cx="239.5" cy="418.5" r="2.78"/><circle cx="239.5" cy="415.5" r="2.78"/><circle cx="238.5" cy="416.5" r="2.78"/><circle cx="234.5" cy="416.5" r="2.78"/><circle cx="234.5" cy="416.5" r="2.78"/><circle cx="239.5" cy="415.5" r="2.78"/><circle cx="237.5" cy="416.5" r="2.78"/><circle cx="232.5" cy="416.5" r="2.78"/><circle cx="246.5" cy="416.5" r="2.78"/><circle cx="240.5" cy="417.5" r="2.78"/><circle cx="242.5" cy="417.5" r="2.78"/><circle cx="236.5" cy="417.5" r="2.78"/><circle cx="259.5" cy="416.5" r="2.78"/><circle cx="263.5" cy="416.5" r="2.78"/><circle cx="262.5" cy="414.5" r="2.78"/><circle cx="257.5" cy="416.5" r="2.78"/><circle cx="262.5" cy="413.5" r="2.78"/><circle cx="261.5" cy="417.5" r="2.78"/><circle cx="262.5" cy="417.5" r="2.78"/><circle cx="255.5" cy="416.5" r="2.78"/><circle cx="256.5" cy="416.5" r="2.78"/><circle cx="271.5" cy="416.5" r="2.78"/><circle cx="311.5" cy="417.5" r="2.78"/><circle cx="342.5" cy="415.5" r="2.78"/><circle cx="339.5" cy="417.5" r="2.78"/><circle cx="298.5" cy="417.5" r="2.78"/><circle cx="276.5" cy="417.5" r="2.78"/><circle cx="312.5" cy="416.5" r="2.78"/><circle cx="318.5" cy="418.5" r="2.78"/><circle cx="298.5" cy="416.5" r="2.78"/><circle cx="302.5" cy="418.5" r="2.78"/><circle cx="345.5" cy="418.5" r="2.78"/><circle cx="285.5" cy="417.5" r="2.78"/><circle cx="295.5" cy="416.5" r="2.78"/><circle cx="338.5" cy="418.5" r="2.78"/><circle cx="271.5" cy="415.5" r="2.78"/><circle cx="329.5" cy="416.5" r="2.78"/><circle cx="345.5" cy="414.5" r="2.78"/><circle cx="271.5" cy="417.5" r="2.78"/><circle cx="341.5" cy="417.5" r="2.78"/><circle cx="320.5" cy="416.5" r="2.78"/><circle cx="327.5" cy="417.5" r="2.78"/><circle cx="275.5" cy="416.5" r="2.78"/><circle cx="277.5" cy="417.5" r="2.78"/><circle cx="305.5" cy="416.5" r="2.78"/><circle cx="278.5" cy="417.5" r="2.78"/><circle cx="321.5" cy="418.5" r="2.78"/><circle cx="282.5" cy="416.5" r="2.78"/><circle cx="270.5" cy="417.5" r="2.78"/><circle cx="341.5" cy="416.5" r="2.78"/><circle cx="335.5" cy="416.5" r="2.78"/><circle cx="302.5" cy="416.5" r="2.78"/><circle cx="275.5" cy="418.5" r="2.78"/><circle cx="317.5" cy="415.5" r="2.78"/><circle cx="303.5" cy="415.5" r="2.78"/><circle cx="305.5" cy="418.5" r="2.78"/><circle cx="317.5" cy="416.5" r="2.78"/><circle cx="271.5" cy="417.5" r="2.78"/><circle cx="323.5" cy="415.5" r="2.78"/><circle cx="336.5" cy="416.5" r="2.78"/><circle cx="288.5" cy="415.5" r="2.78"/><circle cx="288.5" cy="416.5" r="2.78"/><circle cx="333.5" cy="416.5" r="2.78"/><circle cx="306.5" cy="417.5" r="2.78"/><circle cx="292.5" cy="416.5" r="2.78"/><circle cx="344.5" cy="416.5" r="2.78"/><circle cx="271.5" cy="417.5" r="2.78"/><circle cx="284.5" cy="415.5" r="2.78"/><circle cx="305.5" cy="416.5" r="2.78"/><circle cx="283.5" cy="417.5" r="2.78"/><circle cx="296.5" cy="420.5" r="2.78"/><circle cx="340.5" cy="416.5" r="2.78"/><circle cx="275.5" cy="415.5" r="2.78"/><circle cx="272.5" cy="418.5" r="2.78"/><circle cx="324.5" cy="415.5" r="2.78"/><circle cx="268.5" cy="419.5" r="2.78"/><circle cx="331.5" cy="416.5" r="2.78"/><circle cx="267.5" cy="417.5" r="2.78"/><circle cx="333.5" cy="415.5" r="2.78"/><circle cx="301.5" cy="416.5" r="2.78"/><circle cx="339.5" cy="416.5" r="2.78"/><circle cx="278.5" cy="417.5" r="2.78"/><circle cx="281.5" cy="416.5" r="2.78"/><circle cx="283.5" cy="414.5" r="2.78"/><circle cx="273.5" cy="417.5" r="2.78"/><circle cx="306.5" cy="417.5" r="2.78"/><circle cx="289.5" cy="416.5" r="2.78"/><circle cx="323.5" cy="417.5" r="2.78"/><circle cx="331.5" cy="415.5" r="2.78"/><circle cx="272.5" cy="416.5" r="2.78"/><circle cx="325.5" cy="415.5" r="2.78"/><circle cx="271.5" cy="417.5" r="2.78"/><circle cx="331.5" cy="415.5" r="2.78"/><circle cx="335.5" cy="418.5" r="2.78"/><circle cx="306.5" cy="418.5" r="2.78"/><circle cx="305.5" cy="416.5" r="2.78"/><circle cx="336.5" cy="416.5" r="2.78"/><circle cx="333.5" cy="417.5" r="2.78"/><circle cx="296.5" cy="417.5" r="2.78"/><circle cx="314.5" cy="417.5" r="2.78"/><circle cx="267.5" cy="415.5" r="2.78"/><circle cx="308.5" cy="416.5" r="2.78"/><circle cx="277.5" cy="416.5" r="2.78"/><circle cx="335.5" cy="414.5" r="2.78"/><circle cx="292.5" cy="416.5" r="2.78"/><circle cx="326.5" cy="415.5" r="2.78"/><circle cx="272.5" cy="418.5" r="2.78"/><circle cx="306.5" cy="414.5" r="2.78"/><circle cx="308.5" cy="415.5" r="2.78"/><circle cx="269.5" cy="416.5" r="2.78"/><circle cx="343.5" cy="416.5" r="2.78"/><circle cx="275.5" cy="417.5" r="2.78"/><circle cx="287.5" cy="416.5" r="2.78"/><circle cx="275.5" cy="416.5" r="2.78"/><circle cx="322.5" cy="416.5" r="2.78"/><circle cx="314.5" cy="416.5" r="2.78"/><circle cx="313.5" cy="414.5" r="2.78"/><circle cx="275.5" cy="416.5" r="2.78"/><circle cx="336.5" cy="416.5" r="2.78"/><circle cx="277.5" cy="416.5" r="2.78"/><circle cx="306.5" cy="415.5" r="2.78"/><circle cx="283.5" cy="410.5" r="2.78"/><circle cx="312.5" cy="408.5" r="2.78"/><circle cx="312.5" cy="411.5" r="2.78"/><circle cx="296.5" cy="413.5" r="2.78"/><circle cx="330.5" cy="413.5" r="2.78"/><circle cx="346.5" cy="417.5" r="2.78"/><circle cx="345.5" cy="416.5" r="2.78"/><circle cx="343.5" cy="415.5" r="2.78"/><circle cx="376.5" cy="415.5" r="2.78"/><circle cx="382.5" cy="416.5" r="2.78"/><circle cx="392.5" cy="416.5" r="2.78"/><circle cx="376.5" cy="413.5" r="2.78"/><circle cx="377.5" cy="414.5" r="2.78"/><circle cx="391.5" cy="416.5" r="2.78"/><circle cx="382.5" cy="414.5" r="2.78"/><circle cx="391.5" cy="414.5" r="2.78"/><circle cx="393.5" cy="415.5" r="2.78"/><circle cx="390.5" cy="414.5" r="2.78"/><circle cx="380.5" cy="415.5" r="2.78"/><circle cx="382.5" cy="417.5" r="2.78"/><circle cx="393.5" cy="414.5" r="2.78"/><circle cx="391.5" cy="415.5" r="2.78"/><circle cx="384.5" cy="414.5" r="2.78"/><circle cx="394.5" cy="415.5" r="2.78"/><circle cx="382.5" cy="414.5" r="2.78"/><circle cx="387.5" cy="414.5" r="2.78"/><circle cx="374.5" cy="416.5" r="2.78"/><circle cx="382.5" cy="414.5" r="2.78"/><circle cx="376.5" cy="415.5" r="2.78"/><circle cx="394.5" cy="415.5" r="2.78"/><circle cx="387.5" cy="412.5" r="2.78"/><circle cx="390.5" cy="416.5" r="2.78"/><circle cx="378.5" cy="409.5" r="2.78"/><circle cx="377.5" cy="411.5" r="2.78"/><circle cx="379.5" cy="411.5" r="2.78"/><circle cx="380.5" cy="412.5" r="2.78"/><circle cx="376.5" cy="412.5" r="2.78"/><circle cx="402.5" cy="416.5" r="2.78"/><circle cx="401.5" cy="414.5" r="2.78"/><circle cx="409.5" cy="414.5" r="2.78"/><circle cx="410.5" cy="415.5" r="2.78"/><circle cx="413.5" cy="413.5" r="2.78"/><circle cx="414.5" cy="414.5" r="2.78"/><circle cx="416.5" cy="415.5" r="2.78"/><circle cx="417.5" cy="416.5" r="2.78"/><circle cx="418.5" cy="417.5" r="2.78"/><circle cx="419.5" cy="416.5" r="2.78"/><circle cx="420.5" cy="417.5" r="2.78"/><circle cx="421.5" cy="415.5" r="2.78"/><circle cx="422.5" cy="416.5" r="2.78"/><circle cx="424.5" cy="416.5" r="2.78"/><circle cx="424.5" cy="417.5" r="2.78"/><circle cx="415.5" cy="416.5" r="2.78"/><circle cx="419.5" cy="418.5" r="2.78"/><circle cx="430.5" cy="412.5" r="2.78"/><circle cx="431.5" cy="413.5" r="2.78"/><circle cx="435.5" cy="415.5" r="2.78"/><circle cx="472.5" cy="416.5" r="2.78"/><circle cx="450.5" cy="418.5" r="2.78"/><circle cx="466.5" cy="417.5" r="2.78"/><circle cx="448.5" cy="416.5" r="2.78"/><circle cx="465.5" cy="414.5" r="2.78"/><circle cx="450.5" cy="417.5" r="2.78"/><circle cx="452.5" cy="416.5" r="2.78"/><circle cx="469.5" cy="416.5" r="2.78"/><circle cx="491.5" cy="415.5" r="2.78"/><circle cx="461.5" cy="416.5" r="2.78"/><circle cx="465.5" cy="417.5" r="2.78"/><circle cx="441.5" cy="417.5" r="2.78"/><circle cx="451.5" cy="416.5" r="2.78"/><circle cx="448.5" cy="417.5" r="2.78"/><circle cx="438.5" cy="414.5" r="2.78"/><circle cx="470.5" cy="416.5" r="2.78"/><circle cx="468.5" cy="416.5" r="2.78"/><circle cx="476.5" cy="416.5" r="2.78"/><circle cx="461.5" cy="415.5" r="2.78"/><circle cx="461.5" cy="416.5" r="2.78"/><circle cx="452.5" cy="416.5" r="2.78"/><circle cx="464.5" cy="417.5" r="2.78"/><circle cx="456.5" cy="416.5" r="2.78"/><circle cx="454.5" cy="416.5" r="2.78"/><circle cx="485.5" cy="416.5" r="2.78"/><circle cx="463.5" cy="417.5" r="2.78"/><circle cx="450.5" cy="417.5" r="2.78"/><circle cx="480.5" cy="416.5" r="2.78"/><circle cx="443.5" cy="418.5" r="2.78"/><circle cx="460.5" cy="417.5" r="2.78"/><circle cx="437.5" cy="415.5" r="2.78"/><circle cx="478.5" cy="417.5" r="2.78"/><circle cx="440.5" cy="417.5" r="2.78"/><circle cx="478.5" cy="419.5" r="2.78"/><circle cx="442.5" cy="416.5" r="2.78"/><circle cx="474.5" cy="417.5" r="2.78"/><circle cx="470.5" cy="417.5" r="2.78"/><circle cx="464.5" cy="415.5" r="2.78"/><circle cx="478.5" cy="416.5" r="2.78"/><circle cx="462.5" cy="415.5" r="2.78"/><circle cx="481.5" cy="416.5" r="2.78"/><circle cx="441.5" cy="414.5" r="2.78"/><circle cx="486.5" cy="418.5" r="2.78"/><circle cx="469.5" cy="416.5" r="2.78"/><circle cx="463.5" cy="417.5" r="2.78"/><circle cx="458.5" cy="416.5" r="2.78"/><circle cx="481.5" cy="417.5" r="2.78"/><circle cx="456.5" cy="415.5" r="2.78"/><circle cx="460.5" cy="415.5" r="2.78"/><circle cx="451.5" cy="417.5" r="2.78"/><circle cx="457.5" cy="415.5" r="2.78"/><circle cx="453.5" cy="416.5" r="2.78"/><circle cx="481.5" cy="417.5" r="2.78"/><circle cx="460.5" cy="415.5" r="2.78"/><circle cx="444.5" cy="416.5" r="2.78"/><circle cx="468.5" cy="417.5" r="2.78"/><circle cx="468.5" cy="418.5" r="2.78"/><circle cx="453.5" cy="417.5" r="2.78"/><circle cx="484.5" cy="418.5" r="2.78"/><circle cx="445.5" cy="414.5" r="2.78"/><circle cx="459.5" cy="416.5" r="2.78"/><circle cx="436.5" cy="416.5" r="2.78"/><circle cx="467.5" cy="414.5" r="2.78"/><circle cx="480.5" cy="416.5" r="2.78"/><circle cx="466.5" cy="417.5" r="2.78"/><circle cx="464.5" cy="416.5" r="2.78"/><circle cx="475.5" cy="415.5" r="2.78"/><circle cx="469.5" cy="417.5" r="2.78"/><circle cx="454.5" cy="418.5" r="2.78"/><circle cx="465.5" cy="416.5" r="2.78"/><circle cx="439.5" cy="415.5" r="2.78"/><circle cx="467.5" cy="417.5" r="2.78"/><circle cx="468.5" cy="418.5" r="2.78"/><circle cx="463.5" cy="414.5" r="2.78"/><circle cx="447.5" cy="410.5" r="2.78"/><circle cx="447.5" cy="412.5" r="2.78"/><circle cx="491.5" cy="413.5" r="2.78"/><circle cx="490.5" cy="413.5" r="2.78"/><circle cx="491.5" cy="415.5" r="2.78"/><circle cx="490.5" cy="415.5" r="2.78"/><circle cx="494.5" cy="415.5" r="2.78"/><circle cx="489.5" cy="414.5" r="2.78"/><circle cx="503.5" cy="411.5" r="2.78"/><circle cx="502.5" cy="417.5" r="2.78"/><circle cx="506.5" cy="416.5" r="2.78"/><circle cx="504.5" cy="414.5" r="2.78"/><circle cx="512.5" cy="415.5" r="2.78"/><circle cx="515.5" cy="416.5" r="2.78"/><circle cx="516.5" cy="418.5" r="2.78"/><circle cx="518.5" cy="403.5" r="2.78"/><circle cx="521.5" cy="410.5" r="2.78"/><circle cx="521.5" cy="414.5" r="2.78"/><circle cx="528.5" cy="414.5" r="2.78"/><circle cx="529.5" cy="417.5" r="2.78"/><circle cx="533.5" cy="416.5" r="2.78"/><circle cx="536.5" cy="410.5" r="2.78"/><circle cx="540.5" cy="409.5" r="2.78"/><circle cx="540.5" cy="411.5" r="2.78"/><circle cx="540.5" cy="414.5" r="2.78"/><circle cx="538.5" cy="412.5" r="2.78"/></g>
</g>
<path d="M79.94 58.5H577.06M79.94 181.5H577.06M79.94 304.5H577.06M79.94 427.5H577.06M80.5 58.5V427.5M576.5 58.5V427.5M148.5 427.5V432.5M221.5 427.5V432.5M293.5 427.5V432.5M366.5 427.5V432.5M438.5 427.5V432.5M511.5 427.5V432.5M75.5 80.5H80.5M75.5 113.5H80.5M75.5 146.5H80.5M75.5 179.5H80.5M75.5 195.5H80.5M75.5 254.5H80.5M75.5 335.5H80.5M75.5 385.5H80.5" stroke="#000" stroke-width="1.11" fill="none"/>
<g font-size="13.89" style="filter:grayscale(1)">
<text x="147.95" y="448" text-anchor="middle" letter-spacing="-0.15">3690</text>
<text x="220.5" y="448" text-anchor="middle" letter-spacing="-0.15">3695</text>
<text x="292.55" y="448" text-anchor="middle" letter-spacing="-0.45">3700</text>
<text x="365.1" y="448" text-anchor="middle" letter-spacing="-0.45">3705</text>
<text x="437.9" y="448" text-anchor="middle" letter-spacing="-0.3">3710</text>
<text x="510.45" y="448" text-anchor="middle" letter-spacing="-0.3">3715</text>
<text x="69.28" y="85" text-anchor="end" letter-spacing="-0.6">10</text>
<text x="69.53" y="118" text-anchor="end" letter-spacing="-0.6">15</text>
<text x="70.03" y="152" text-anchor="end" letter-spacing="-0.3">20</text>
<text x="70.53" y="185" text-anchor="end" letter-spacing="0">25</text>
<text x="70.53" y="200" text-anchor="end" letter-spacing="0">0</text>
<text x="69.78" y="260" text-anchor="end" letter-spacing="-0.15">−100</text>
<text x="69.28" y="340" text-anchor="end" letter-spacing="-0.6">10</text>
<text x="69.53" y="391" text-anchor="end" letter-spacing="-0.6">15</text>
<text transform="translate(43.3 119.6) rotate(-90)" text-anchor="middle">T mag</text>
<text transform="translate(5.9 278.2) rotate(-90)">Bkg (red)/</text>
<text transform="translate(22.9 310.24) rotate(-90)">bkg_model (purple)</text>
<text transform="translate(25.3 396.2) rotate(-90)">T mag −</text>
<text transform="translate(43.77 406.3) rotate(-90)">bkg_model</text>
<text y="468"><tspan x="270.85">BTJD −</tspan><tspan x="319.4">2 </tspan><tspan x="330.5" letter-spacing="-0.2">457 </tspan><tspan x="358.7" letter-spacing="-0.2">000</tspan></text>
</g>
<g font-size="20" style="filter:grayscale(1)">
<text x="199.3" y="26.87" xml:space="preserve" style="white-space:pre">AT2025no  ZTF25aabzyis</text>
<text x="151.76" y="49.27" letter-spacing="0.045">20.0315r-ZTF Unclassified z= -99.0</text>
</g>
</svg>
</body></html>
